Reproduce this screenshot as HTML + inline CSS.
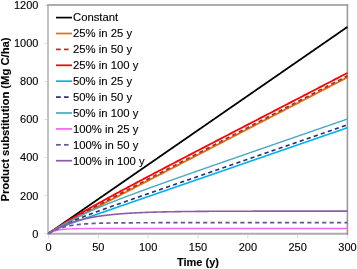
<!DOCTYPE html><html><head><meta charset="utf-8"><style>html,body{margin:0;padding:0;background:#fff;}svg{display:block;} text{filter:grayscale(1);stroke:#000;stroke-width:0.12px;}text{font-family:"Liberation Sans",sans-serif;}</style></head><body>
<svg width="357" height="269" viewBox="0 0 357 269">
<rect width="357" height="269" fill="#fff"/>
<g stroke="#dcdcdc" stroke-width="1"><line x1="44.5" y1="233.50" x2="47" y2="233.50"/><line x1="44.5" y1="195.50" x2="47" y2="195.50"/><line x1="44.5" y1="157.50" x2="47" y2="157.50"/><line x1="44.5" y1="119.50" x2="47" y2="119.50"/><line x1="44.5" y1="81.50" x2="47" y2="81.50"/><line x1="44.5" y1="43.50" x2="47" y2="43.50"/><line x1="44.5" y1="5.50" x2="47" y2="5.50"/><line x1="48.50" y1="235" x2="48.50" y2="238.5"/><line x1="98.33" y1="235" x2="98.33" y2="238.5"/><line x1="148.17" y1="235" x2="148.17" y2="238.5"/><line x1="198.00" y1="235" x2="198.00" y2="238.5"/><line x1="247.83" y1="235" x2="247.83" y2="238.5"/><line x1="297.67" y1="235" x2="297.67" y2="238.5"/><line x1="347.50" y1="235" x2="347.50" y2="238.5"/></g>
<line x1="48" y1="4" x2="48" y2="234.8" stroke="#c2c2c2" stroke-width="2"/>
<line x1="47" y1="233.8" x2="348.2" y2="233.8" stroke="#adadad" stroke-width="2"/>
<line x1="47" y1="5" x2="348.2" y2="5" stroke="#adadad" stroke-width="2"/>
<line x1="347.4" y1="4" x2="347.4" y2="234.8" stroke="#999" stroke-width="1.6"/>
<path d="M48.50,233.50 L49.00,233.16 L49.50,232.81 L49.99,232.47 L50.49,232.12 L50.99,231.78 L51.49,231.43 L51.99,231.09 L52.49,230.75 L52.98,230.40 L53.48,230.06 L53.98,229.71 L54.48,229.37 L54.98,229.02 L55.48,228.68 L55.98,228.33 L56.47,227.99 L56.97,227.65 L57.47,227.30 L57.97,226.96 L58.47,226.61 L58.97,226.27 L59.46,225.92 L59.96,225.58 L60.46,225.24 L60.96,224.89 L61.46,224.55 L61.95,224.20 L62.45,223.86 L62.95,223.51 L63.45,223.17 L63.95,222.82 L64.45,222.48 L64.94,222.14 L65.44,221.79 L65.94,221.45 L66.44,221.10 L66.94,220.76 L67.44,220.41 L67.94,220.07 L68.43,219.72 L68.93,219.38 L69.43,219.04 L69.93,218.69 L70.43,218.35 L70.92,218.00 L71.42,217.66 L71.92,217.31 L72.42,216.97 L72.92,216.63 L73.42,216.28 L73.91,215.94 L74.41,215.59 L74.91,215.25 L75.41,214.90 L75.91,214.56 L76.41,214.22 L76.91,213.87 L77.40,213.53 L77.90,213.18 L78.40,212.84 L78.90,212.49 L79.40,212.15 L79.89,211.80 L80.39,211.46 L80.89,211.12 L81.39,210.77 L81.89,210.43 L82.39,210.08 L82.88,209.74 L83.38,209.39 L83.88,209.05 L84.38,208.70 L84.88,208.36 L85.38,208.02 L85.88,207.67 L86.37,207.33 L86.87,206.98 L87.37,206.64 L87.87,206.29 L88.37,205.95 L88.87,205.61 L89.36,205.26 L89.86,204.92 L90.36,204.57 L90.86,204.23 L91.36,203.88 L91.85,203.54 L92.35,203.19 L92.85,202.85 L93.35,202.51 L93.85,202.16 L94.35,201.82 L94.84,201.47 L95.34,201.13 L95.84,200.78 L96.34,200.44 L96.84,200.10 L97.34,199.75 L97.84,199.41 L98.33,199.06 L98.83,198.72 L99.33,198.37 L99.83,198.03 L100.33,197.69 L100.83,197.34 L101.32,197.00 L101.82,196.65 L102.32,196.31 L102.82,195.96 L103.32,195.62 L103.81,195.27 L104.31,194.93 L104.81,194.59 L105.31,194.24 L105.81,193.90 L106.31,193.55 L106.81,193.21 L107.30,192.86 L107.80,192.52 L108.30,192.18 L108.80,191.83 L109.30,191.49 L109.80,191.14 L110.29,190.80 L110.79,190.45 L111.29,190.11 L111.79,189.76 L112.29,189.42 L112.78,189.08 L113.28,188.73 L113.78,188.39 L114.28,188.04 L114.78,187.70 L115.28,187.35 L115.78,187.01 L116.27,186.66 L116.77,186.32 L117.27,185.98 L117.77,185.63 L118.27,185.29 L118.77,184.94 L119.26,184.60 L119.76,184.25 L120.26,183.91 L120.76,183.57 L121.26,183.22 L121.75,182.88 L122.25,182.53 L122.75,182.19 L123.25,181.84 L123.75,181.50 L124.25,181.16 L124.75,180.81 L125.24,180.47 L125.74,180.12 L126.24,179.78 L126.74,179.43 L127.24,179.09 L127.73,178.74 L128.23,178.40 L128.73,178.06 L129.23,177.71 L129.73,177.37 L130.23,177.02 L130.72,176.68 L131.22,176.33 L131.72,175.99 L132.22,175.65 L132.72,175.30 L133.22,174.96 L133.72,174.61 L134.21,174.27 L134.71,173.92 L135.21,173.58 L135.71,173.23 L136.21,172.89 L136.70,172.55 L137.20,172.20 L137.70,171.86 L138.20,171.51 L138.70,171.17 L139.20,170.82 L139.69,170.48 L140.19,170.13 L140.69,169.79 L141.19,169.45 L141.69,169.10 L142.19,168.76 L142.69,168.41 L143.18,168.07 L143.68,167.72 L144.18,167.38 L144.68,167.04 L145.18,166.69 L145.68,166.35 L146.17,166.00 L146.67,165.66 L147.17,165.31 L147.67,164.97 L148.17,164.62 L148.67,164.28 L149.16,163.94 L149.66,163.59 L150.16,163.25 L150.66,162.90 L151.16,162.56 L151.66,162.21 L152.15,161.87 L152.65,161.53 L153.15,161.18 L153.65,160.84 L154.15,160.49 L154.64,160.15 L155.14,159.80 L155.64,159.46 L156.14,159.12 L156.64,158.77 L157.14,158.43 L157.63,158.08 L158.13,157.74 L158.63,157.39 L159.13,157.05 L159.63,156.70 L160.13,156.36 L160.62,156.02 L161.12,155.67 L161.62,155.33 L162.12,154.98 L162.62,154.64 L163.12,154.29 L163.62,153.95 L164.11,153.61 L164.61,153.26 L165.11,152.92 L165.61,152.57 L166.11,152.23 L166.61,151.88 L167.10,151.54 L167.60,151.19 L168.10,150.85 L168.60,150.51 L169.10,150.16 L169.59,149.82 L170.09,149.47 L170.59,149.13 L171.09,148.78 L171.59,148.44 L172.09,148.09 L172.58,147.75 L173.08,147.41 L173.58,147.06 L174.08,146.72 L174.58,146.37 L175.08,146.03 L175.57,145.68 L176.07,145.34 L176.57,145.00 L177.07,144.65 L177.57,144.31 L178.07,143.96 L178.56,143.62 L179.06,143.27 L179.56,142.93 L180.06,142.58 L180.56,142.24 L181.06,141.90 L181.56,141.55 L182.05,141.21 L182.55,140.86 L183.05,140.52 L183.55,140.17 L184.05,139.83 L184.54,139.49 L185.04,139.14 L185.54,138.80 L186.04,138.45 L186.54,138.11 L187.04,137.76 L187.53,137.42 L188.03,137.07 L188.53,136.73 L189.03,136.39 L189.53,136.04 L190.03,135.70 L190.53,135.35 L191.02,135.01 L191.52,134.66 L192.02,134.32 L192.52,133.98 L193.02,133.63 L193.51,133.29 L194.01,132.94 L194.51,132.60 L195.01,132.25 L195.51,131.91 L196.01,131.56 L196.50,131.22 L197.00,130.88 L197.50,130.53 L198.00,130.19 L198.50,129.84 L199.00,129.50 L199.50,129.15 L199.99,128.81 L200.49,128.47 L200.99,128.12 L201.49,127.78 L201.99,127.43 L202.49,127.09 L202.98,126.74 L203.48,126.40 L203.98,126.06 L204.48,125.71 L204.98,125.37 L205.47,125.02 L205.97,124.68 L206.47,124.33 L206.97,123.99 L207.47,123.64 L207.97,123.30 L208.47,122.96 L208.96,122.61 L209.46,122.27 L209.96,121.92 L210.46,121.58 L210.96,121.23 L211.46,120.89 L211.95,120.55 L212.45,120.20 L212.95,119.86 L213.45,119.51 L213.95,119.17 L214.44,118.82 L214.94,118.48 L215.44,118.13 L215.94,117.79 L216.44,117.45 L216.94,117.10 L217.44,116.76 L217.93,116.41 L218.43,116.07 L218.93,115.72 L219.43,115.38 L219.93,115.03 L220.43,114.69 L220.92,114.35 L221.42,114.00 L221.92,113.66 L222.42,113.31 L222.92,112.97 L223.41,112.62 L223.91,112.28 L224.41,111.94 L224.91,111.59 L225.41,111.25 L225.91,110.90 L226.41,110.56 L226.90,110.21 L227.40,109.87 L227.90,109.53 L228.40,109.18 L228.90,108.84 L229.40,108.49 L229.89,108.15 L230.39,107.80 L230.89,107.46 L231.39,107.11 L231.89,106.77 L232.38,106.43 L232.88,106.08 L233.38,105.74 L233.88,105.39 L234.38,105.05 L234.88,104.70 L235.38,104.36 L235.87,104.01 L236.37,103.67 L236.87,103.33 L237.37,102.98 L237.87,102.64 L238.37,102.29 L238.86,101.95 L239.36,101.60 L239.86,101.26 L240.36,100.92 L240.86,100.57 L241.35,100.23 L241.85,99.88 L242.35,99.54 L242.85,99.19 L243.35,98.85 L243.85,98.50 L244.34,98.16 L244.84,97.82 L245.34,97.47 L245.84,97.13 L246.34,96.78 L246.84,96.44 L247.34,96.09 L247.83,95.75 L248.33,95.41 L248.83,95.06 L249.33,94.72 L249.83,94.37 L250.32,94.03 L250.82,93.68 L251.32,93.34 L251.82,93.00 L252.32,92.65 L252.82,92.31 L253.31,91.96 L253.81,91.62 L254.31,91.27 L254.81,90.93 L255.31,90.58 L255.81,90.24 L256.31,89.90 L256.80,89.55 L257.30,89.21 L257.80,88.86 L258.30,88.52 L258.80,88.17 L259.29,87.83 L259.79,87.49 L260.29,87.14 L260.79,86.80 L261.29,86.45 L261.79,86.11 L262.28,85.76 L262.78,85.42 L263.28,85.07 L263.78,84.73 L264.28,84.39 L264.78,84.04 L265.27,83.70 L265.77,83.35 L266.27,83.01 L266.77,82.66 L267.27,82.32 L267.77,81.97 L268.26,81.63 L268.76,81.29 L269.26,80.94 L269.76,80.60 L270.26,80.25 L270.76,79.91 L271.25,79.56 L271.75,79.22 L272.25,78.88 L272.75,78.53 L273.25,78.19 L273.75,77.84 L274.25,77.50 L274.74,77.15 L275.24,76.81 L275.74,76.47 L276.24,76.12 L276.74,75.78 L277.24,75.43 L277.73,75.09 L278.23,74.74 L278.73,74.40 L279.23,74.05 L279.73,73.71 L280.23,73.37 L280.72,73.02 L281.22,72.68 L281.72,72.33 L282.22,71.99 L282.72,71.64 L283.22,71.30 L283.71,70.96 L284.21,70.61 L284.71,70.27 L285.21,69.92 L285.71,69.58 L286.21,69.23 L286.70,68.89 L287.20,68.54 L287.70,68.20 L288.20,67.86 L288.70,67.51 L289.19,67.17 L289.69,66.82 L290.19,66.48 L290.69,66.13 L291.19,65.79 L291.69,65.44 L292.19,65.10 L292.68,64.76 L293.18,64.41 L293.68,64.07 L294.18,63.72 L294.68,63.38 L295.18,63.03 L295.67,62.69 L296.17,62.35 L296.67,62.00 L297.17,61.66 L297.67,61.31 L298.16,60.97 L298.66,60.62 L299.16,60.28 L299.66,59.94 L300.16,59.59 L300.66,59.25 L301.15,58.90 L301.65,58.56 L302.15,58.21 L302.65,57.87 L303.15,57.52 L303.65,57.18 L304.14,56.84 L304.64,56.49 L305.14,56.15 L305.64,55.80 L306.14,55.46 L306.64,55.11 L307.13,54.77 L307.63,54.43 L308.13,54.08 L308.63,53.74 L309.13,53.39 L309.63,53.05 L310.12,52.70 L310.62,52.36 L311.12,52.01 L311.62,51.67 L312.12,51.33 L312.62,50.98 L313.12,50.64 L313.61,50.29 L314.11,49.95 L314.61,49.60 L315.11,49.26 L315.61,48.91 L316.11,48.57 L316.60,48.23 L317.10,47.88 L317.60,47.54 L318.10,47.19 L318.60,46.85 L319.10,46.50 L319.59,46.16 L320.09,45.82 L320.59,45.47 L321.09,45.13 L321.59,44.78 L322.08,44.44 L322.58,44.09 L323.08,43.75 L323.58,43.41 L324.08,43.06 L324.58,42.72 L325.07,42.37 L325.57,42.03 L326.07,41.68 L326.57,41.34 L327.07,40.99 L327.57,40.65 L328.06,40.31 L328.56,39.96 L329.06,39.62 L329.56,39.27 L330.06,38.93 L330.56,38.58 L331.06,38.24 L331.55,37.90 L332.05,37.55 L332.55,37.21 L333.05,36.86 L333.55,36.52 L334.05,36.17 L334.54,35.83 L335.04,35.48 L335.54,35.14 L336.04,34.80 L336.54,34.45 L337.04,34.11 L337.53,33.76 L338.03,33.42 L338.53,33.07 L339.03,32.73 L339.53,32.38 L340.02,32.04 L340.52,31.70 L341.02,31.35 L341.52,31.01 L342.02,30.66 L342.52,30.32 L343.01,29.97 L343.51,29.63 L344.01,29.29 L344.51,28.94 L345.01,28.60 L345.51,28.25 L346.00,27.91 L346.50,27.56 L347.00,27.22 L347.50,26.88" fill="none" stroke="#000000" stroke-width="1.8" stroke-linejoin="round"/>
<path d="M48.50,233.50 L49.00,233.17 L49.50,232.84 L49.99,232.52 L50.49,232.20 L50.99,231.89 L51.49,231.58 L51.99,231.27 L52.49,230.96 L52.98,230.66 L53.48,230.36 L53.98,230.06 L54.48,229.77 L54.98,229.47 L55.48,229.18 L55.98,228.89 L56.47,228.61 L56.97,228.32 L57.47,228.04 L57.97,227.75 L58.47,227.47 L58.97,227.19 L59.46,226.91 L59.96,226.63 L60.46,226.36 L60.96,226.08 L61.46,225.81 L61.95,225.53 L62.45,225.26 L62.95,224.99 L63.45,224.72 L63.95,224.45 L64.45,224.18 L64.94,223.91 L65.44,223.64 L65.94,223.37 L66.44,223.10 L66.94,222.84 L67.44,222.57 L67.94,222.30 L68.43,222.04 L68.93,221.77 L69.43,221.51 L69.93,221.24 L70.43,220.98 L70.92,220.72 L71.42,220.45 L71.92,220.19 L72.42,219.93 L72.92,219.66 L73.42,219.40 L73.91,219.14 L74.41,218.88 L74.91,218.62 L75.41,218.36 L75.91,218.09 L76.41,217.83 L76.91,217.57 L77.40,217.31 L77.90,217.05 L78.40,216.79 L78.90,216.53 L79.40,216.27 L79.89,216.01 L80.39,215.75 L80.89,215.49 L81.39,215.23 L81.89,214.97 L82.39,214.71 L82.88,214.45 L83.38,214.19 L83.88,213.93 L84.38,213.67 L84.88,213.41 L85.38,213.15 L85.88,212.89 L86.37,212.64 L86.87,212.38 L87.37,212.12 L87.87,211.86 L88.37,211.60 L88.87,211.34 L89.36,211.08 L89.86,210.82 L90.36,210.56 L90.86,210.31 L91.36,210.05 L91.85,209.79 L92.35,209.53 L92.85,209.27 L93.35,209.01 L93.85,208.75 L94.35,208.49 L94.84,208.24 L95.34,207.98 L95.84,207.72 L96.34,207.46 L96.84,207.20 L97.34,206.94 L97.84,206.68 L98.33,206.43 L98.83,206.17 L99.33,205.91 L99.83,205.65 L100.33,205.39 L100.83,205.13 L101.32,204.88 L101.82,204.62 L102.32,204.36 L102.82,204.10 L103.32,203.84 L103.81,203.58 L104.31,203.32 L104.81,203.07 L105.31,202.81 L105.81,202.55 L106.31,202.29 L106.81,202.03 L107.30,201.77 L107.80,201.52 L108.30,201.26 L108.80,201.00 L109.30,200.74 L109.80,200.48 L110.29,200.22 L110.79,199.97 L111.29,199.71 L111.79,199.45 L112.29,199.19 L112.78,198.93 L113.28,198.67 L113.78,198.42 L114.28,198.16 L114.78,197.90 L115.28,197.64 L115.78,197.38 L116.27,197.12 L116.77,196.87 L117.27,196.61 L117.77,196.35 L118.27,196.09 L118.77,195.83 L119.26,195.58 L119.76,195.32 L120.26,195.06 L120.76,194.80 L121.26,194.54 L121.75,194.28 L122.25,194.03 L122.75,193.77 L123.25,193.51 L123.75,193.25 L124.25,192.99 L124.75,192.73 L125.24,192.48 L125.74,192.22 L126.24,191.96 L126.74,191.70 L127.24,191.44 L127.73,191.18 L128.23,190.93 L128.73,190.67 L129.23,190.41 L129.73,190.15 L130.23,189.89 L130.72,189.63 L131.22,189.38 L131.72,189.12 L132.22,188.86 L132.72,188.60 L133.22,188.34 L133.72,188.08 L134.21,187.83 L134.71,187.57 L135.21,187.31 L135.71,187.05 L136.21,186.79 L136.70,186.54 L137.20,186.28 L137.70,186.02 L138.20,185.76 L138.70,185.50 L139.20,185.24 L139.69,184.99 L140.19,184.73 L140.69,184.47 L141.19,184.21 L141.69,183.95 L142.19,183.69 L142.69,183.44 L143.18,183.18 L143.68,182.92 L144.18,182.66 L144.68,182.40 L145.18,182.14 L145.68,181.89 L146.17,181.63 L146.67,181.37 L147.17,181.11 L147.67,180.85 L148.17,180.59 L148.67,180.34 L149.16,180.08 L149.66,179.82 L150.16,179.56 L150.66,179.30 L151.16,179.04 L151.66,178.79 L152.15,178.53 L152.65,178.27 L153.15,178.01 L153.65,177.75 L154.15,177.50 L154.64,177.24 L155.14,176.98 L155.64,176.72 L156.14,176.46 L156.64,176.20 L157.14,175.95 L157.63,175.69 L158.13,175.43 L158.63,175.17 L159.13,174.91 L159.63,174.65 L160.13,174.40 L160.62,174.14 L161.12,173.88 L161.62,173.62 L162.12,173.36 L162.62,173.10 L163.12,172.85 L163.62,172.59 L164.11,172.33 L164.61,172.07 L165.11,171.81 L165.61,171.55 L166.11,171.30 L166.61,171.04 L167.10,170.78 L167.60,170.52 L168.10,170.26 L168.60,170.00 L169.10,169.75 L169.59,169.49 L170.09,169.23 L170.59,168.97 L171.09,168.71 L171.59,168.46 L172.09,168.20 L172.58,167.94 L173.08,167.68 L173.58,167.42 L174.08,167.16 L174.58,166.91 L175.08,166.65 L175.57,166.39 L176.07,166.13 L176.57,165.87 L177.07,165.61 L177.57,165.36 L178.07,165.10 L178.56,164.84 L179.06,164.58 L179.56,164.32 L180.06,164.06 L180.56,163.81 L181.06,163.55 L181.56,163.29 L182.05,163.03 L182.55,162.77 L183.05,162.51 L183.55,162.26 L184.05,162.00 L184.54,161.74 L185.04,161.48 L185.54,161.22 L186.04,160.97 L186.54,160.71 L187.04,160.45 L187.53,160.19 L188.03,159.93 L188.53,159.67 L189.03,159.42 L189.53,159.16 L190.03,158.90 L190.53,158.64 L191.02,158.38 L191.52,158.12 L192.02,157.87 L192.52,157.61 L193.02,157.35 L193.51,157.09 L194.01,156.83 L194.51,156.57 L195.01,156.32 L195.51,156.06 L196.01,155.80 L196.50,155.54 L197.00,155.28 L197.50,155.02 L198.00,154.77 L198.50,154.51 L199.00,154.25 L199.50,153.99 L199.99,153.73 L200.49,153.47 L200.99,153.22 L201.49,152.96 L201.99,152.70 L202.49,152.44 L202.98,152.18 L203.48,151.93 L203.98,151.67 L204.48,151.41 L204.98,151.15 L205.47,150.89 L205.97,150.63 L206.47,150.38 L206.97,150.12 L207.47,149.86 L207.97,149.60 L208.47,149.34 L208.96,149.08 L209.46,148.83 L209.96,148.57 L210.46,148.31 L210.96,148.05 L211.46,147.79 L211.95,147.53 L212.45,147.28 L212.95,147.02 L213.45,146.76 L213.95,146.50 L214.44,146.24 L214.94,145.98 L215.44,145.73 L215.94,145.47 L216.44,145.21 L216.94,144.95 L217.44,144.69 L217.93,144.44 L218.43,144.18 L218.93,143.92 L219.43,143.66 L219.93,143.40 L220.43,143.14 L220.92,142.89 L221.42,142.63 L221.92,142.37 L222.42,142.11 L222.92,141.85 L223.41,141.59 L223.91,141.34 L224.41,141.08 L224.91,140.82 L225.41,140.56 L225.91,140.30 L226.41,140.04 L226.90,139.79 L227.40,139.53 L227.90,139.27 L228.40,139.01 L228.90,138.75 L229.40,138.49 L229.89,138.24 L230.39,137.98 L230.89,137.72 L231.39,137.46 L231.89,137.20 L232.38,136.94 L232.88,136.69 L233.38,136.43 L233.88,136.17 L234.38,135.91 L234.88,135.65 L235.38,135.40 L235.87,135.14 L236.37,134.88 L236.87,134.62 L237.37,134.36 L237.87,134.10 L238.37,133.85 L238.86,133.59 L239.36,133.33 L239.86,133.07 L240.36,132.81 L240.86,132.55 L241.35,132.30 L241.85,132.04 L242.35,131.78 L242.85,131.52 L243.35,131.26 L243.85,131.00 L244.34,130.75 L244.84,130.49 L245.34,130.23 L245.84,129.97 L246.34,129.71 L246.84,129.45 L247.34,129.20 L247.83,128.94 L248.33,128.68 L248.83,128.42 L249.33,128.16 L249.83,127.91 L250.32,127.65 L250.82,127.39 L251.32,127.13 L251.82,126.87 L252.32,126.61 L252.82,126.36 L253.31,126.10 L253.81,125.84 L254.31,125.58 L254.81,125.32 L255.31,125.06 L255.81,124.81 L256.31,124.55 L256.80,124.29 L257.30,124.03 L257.80,123.77 L258.30,123.51 L258.80,123.26 L259.29,123.00 L259.79,122.74 L260.29,122.48 L260.79,122.22 L261.29,121.96 L261.79,121.71 L262.28,121.45 L262.78,121.19 L263.28,120.93 L263.78,120.67 L264.28,120.41 L264.78,120.16 L265.27,119.90 L265.77,119.64 L266.27,119.38 L266.77,119.12 L267.27,118.87 L267.77,118.61 L268.26,118.35 L268.76,118.09 L269.26,117.83 L269.76,117.57 L270.26,117.32 L270.76,117.06 L271.25,116.80 L271.75,116.54 L272.25,116.28 L272.75,116.02 L273.25,115.77 L273.75,115.51 L274.25,115.25 L274.74,114.99 L275.24,114.73 L275.74,114.47 L276.24,114.22 L276.74,113.96 L277.24,113.70 L277.73,113.44 L278.23,113.18 L278.73,112.92 L279.23,112.67 L279.73,112.41 L280.23,112.15 L280.72,111.89 L281.22,111.63 L281.72,111.38 L282.22,111.12 L282.72,110.86 L283.22,110.60 L283.71,110.34 L284.21,110.08 L284.71,109.83 L285.21,109.57 L285.71,109.31 L286.21,109.05 L286.70,108.79 L287.20,108.53 L287.70,108.28 L288.20,108.02 L288.70,107.76 L289.19,107.50 L289.69,107.24 L290.19,106.98 L290.69,106.73 L291.19,106.47 L291.69,106.21 L292.19,105.95 L292.68,105.69 L293.18,105.43 L293.68,105.18 L294.18,104.92 L294.68,104.66 L295.18,104.40 L295.67,104.14 L296.17,103.88 L296.67,103.63 L297.17,103.37 L297.67,103.11 L298.16,102.85 L298.66,102.59 L299.16,102.34 L299.66,102.08 L300.16,101.82 L300.66,101.56 L301.15,101.30 L301.65,101.04 L302.15,100.79 L302.65,100.53 L303.15,100.27 L303.65,100.01 L304.14,99.75 L304.64,99.49 L305.14,99.24 L305.64,98.98 L306.14,98.72 L306.64,98.46 L307.13,98.20 L307.63,97.94 L308.13,97.69 L308.63,97.43 L309.13,97.17 L309.63,96.91 L310.12,96.65 L310.62,96.39 L311.12,96.14 L311.62,95.88 L312.12,95.62 L312.62,95.36 L313.12,95.10 L313.61,94.85 L314.11,94.59 L314.61,94.33 L315.11,94.07 L315.61,93.81 L316.11,93.55 L316.60,93.30 L317.10,93.04 L317.60,92.78 L318.10,92.52 L318.60,92.26 L319.10,92.00 L319.59,91.75 L320.09,91.49 L320.59,91.23 L321.09,90.97 L321.59,90.71 L322.08,90.45 L322.58,90.20 L323.08,89.94 L323.58,89.68 L324.08,89.42 L324.58,89.16 L325.07,88.90 L325.57,88.65 L326.07,88.39 L326.57,88.13 L327.07,87.87 L327.57,87.61 L328.06,87.35 L328.56,87.10 L329.06,86.84 L329.56,86.58 L330.06,86.32 L330.56,86.06 L331.06,85.81 L331.55,85.55 L332.05,85.29 L332.55,85.03 L333.05,84.77 L333.55,84.51 L334.05,84.26 L334.54,84.00 L335.04,83.74 L335.54,83.48 L336.04,83.22 L336.54,82.96 L337.04,82.71 L337.53,82.45 L338.03,82.19 L338.53,81.93 L339.03,81.67 L339.53,81.41 L340.02,81.16 L340.52,80.90 L341.02,80.64 L341.52,80.38 L342.02,80.12 L342.52,79.86 L343.01,79.61 L343.51,79.35 L344.01,79.09 L344.51,78.83 L345.01,78.57 L345.51,78.32 L346.00,78.06 L346.50,77.80 L347.00,77.54 L347.50,77.28" fill="none" stroke="#e46c0a" stroke-width="1.8" stroke-linejoin="round"/>
<path d="M48.50,233.50 L49.00,233.16 L49.50,232.83 L49.99,232.50 L50.49,232.17 L50.99,231.84 L51.49,231.51 L51.99,231.19 L52.49,230.87 L52.98,230.55 L53.48,230.23 L53.98,229.91 L54.48,229.60 L54.98,229.29 L55.48,228.97 L55.98,228.66 L56.47,228.35 L56.97,228.05 L57.47,227.74 L57.97,227.44 L58.47,227.13 L58.97,226.83 L59.46,226.53 L59.96,226.23 L60.46,225.94 L60.96,225.64 L61.46,225.34 L61.95,225.05 L62.45,224.75 L62.95,224.46 L63.45,224.17 L63.95,223.88 L64.45,223.59 L64.94,223.30 L65.44,223.01 L65.94,222.73 L66.44,222.44 L66.94,222.15 L67.44,221.87 L67.94,221.59 L68.43,221.30 L68.93,221.02 L69.43,220.74 L69.93,220.46 L70.43,220.18 L70.92,219.90 L71.42,219.62 L71.92,219.34 L72.42,219.06 L72.92,218.78 L73.42,218.51 L73.91,218.23 L74.41,217.96 L74.91,217.68 L75.41,217.41 L75.91,217.13 L76.41,216.86 L76.91,216.58 L77.40,216.31 L77.90,216.04 L78.40,215.77 L78.90,215.50 L79.40,215.22 L79.89,214.95 L80.39,214.68 L80.89,214.41 L81.39,214.14 L81.89,213.87 L82.39,213.60 L82.88,213.34 L83.38,213.07 L83.88,212.80 L84.38,212.53 L84.88,212.26 L85.38,212.00 L85.88,211.73 L86.37,211.46 L86.87,211.19 L87.37,210.93 L87.87,210.66 L88.37,210.40 L88.87,210.13 L89.36,209.86 L89.86,209.60 L90.36,209.33 L90.86,209.07 L91.36,208.80 L91.85,208.54 L92.35,208.28 L92.85,208.01 L93.35,207.75 L93.85,207.48 L94.35,207.22 L94.84,206.96 L95.34,206.69 L95.84,206.43 L96.34,206.17 L96.84,205.90 L97.34,205.64 L97.84,205.38 L98.33,205.12 L98.83,204.85 L99.33,204.59 L99.83,204.33 L100.33,204.07 L100.83,203.81 L101.32,203.54 L101.82,203.28 L102.32,203.02 L102.82,202.76 L103.32,202.50 L103.81,202.24 L104.31,201.97 L104.81,201.71 L105.31,201.45 L105.81,201.19 L106.31,200.93 L106.81,200.67 L107.30,200.41 L107.80,200.15 L108.30,199.89 L108.80,199.63 L109.30,199.37 L109.80,199.11 L110.29,198.85 L110.79,198.59 L111.29,198.32 L111.79,198.06 L112.29,197.80 L112.78,197.54 L113.28,197.28 L113.78,197.02 L114.28,196.76 L114.78,196.50 L115.28,196.24 L115.78,195.98 L116.27,195.73 L116.77,195.47 L117.27,195.21 L117.77,194.95 L118.27,194.69 L118.77,194.43 L119.26,194.17 L119.76,193.91 L120.26,193.65 L120.76,193.39 L121.26,193.13 L121.75,192.87 L122.25,192.61 L122.75,192.35 L123.25,192.09 L123.75,191.83 L124.25,191.57 L124.75,191.31 L125.24,191.06 L125.74,190.80 L126.24,190.54 L126.74,190.28 L127.24,190.02 L127.73,189.76 L128.23,189.50 L128.73,189.24 L129.23,188.98 L129.73,188.72 L130.23,188.47 L130.72,188.21 L131.22,187.95 L131.72,187.69 L132.22,187.43 L132.72,187.17 L133.22,186.91 L133.72,186.65 L134.21,186.39 L134.71,186.14 L135.21,185.88 L135.71,185.62 L136.21,185.36 L136.70,185.10 L137.20,184.84 L137.70,184.58 L138.20,184.32 L138.70,184.07 L139.20,183.81 L139.69,183.55 L140.19,183.29 L140.69,183.03 L141.19,182.77 L141.69,182.51 L142.19,182.26 L142.69,182.00 L143.18,181.74 L143.68,181.48 L144.18,181.22 L144.68,180.96 L145.18,180.70 L145.68,180.45 L146.17,180.19 L146.67,179.93 L147.17,179.67 L147.67,179.41 L148.17,179.15 L148.67,178.89 L149.16,178.64 L149.66,178.38 L150.16,178.12 L150.66,177.86 L151.16,177.60 L151.66,177.34 L152.15,177.09 L152.65,176.83 L153.15,176.57 L153.65,176.31 L154.15,176.05 L154.64,175.79 L155.14,175.53 L155.64,175.28 L156.14,175.02 L156.64,174.76 L157.14,174.50 L157.63,174.24 L158.13,173.98 L158.63,173.73 L159.13,173.47 L159.63,173.21 L160.13,172.95 L160.62,172.69 L161.12,172.43 L161.62,172.18 L162.12,171.92 L162.62,171.66 L163.12,171.40 L163.62,171.14 L164.11,170.88 L164.61,170.63 L165.11,170.37 L165.61,170.11 L166.11,169.85 L166.61,169.59 L167.10,169.33 L167.60,169.08 L168.10,168.82 L168.60,168.56 L169.10,168.30 L169.59,168.04 L170.09,167.78 L170.59,167.53 L171.09,167.27 L171.59,167.01 L172.09,166.75 L172.58,166.49 L173.08,166.23 L173.58,165.98 L174.08,165.72 L174.58,165.46 L175.08,165.20 L175.57,164.94 L176.07,164.68 L176.57,164.43 L177.07,164.17 L177.57,163.91 L178.07,163.65 L178.56,163.39 L179.06,163.13 L179.56,162.88 L180.06,162.62 L180.56,162.36 L181.06,162.10 L181.56,161.84 L182.05,161.58 L182.55,161.33 L183.05,161.07 L183.55,160.81 L184.05,160.55 L184.54,160.29 L185.04,160.03 L185.54,159.78 L186.04,159.52 L186.54,159.26 L187.04,159.00 L187.53,158.74 L188.03,158.48 L188.53,158.23 L189.03,157.97 L189.53,157.71 L190.03,157.45 L190.53,157.19 L191.02,156.93 L191.52,156.68 L192.02,156.42 L192.52,156.16 L193.02,155.90 L193.51,155.64 L194.01,155.38 L194.51,155.13 L195.01,154.87 L195.51,154.61 L196.01,154.35 L196.50,154.09 L197.00,153.83 L197.50,153.58 L198.00,153.32 L198.50,153.06 L199.00,152.80 L199.50,152.54 L199.99,152.28 L200.49,152.03 L200.99,151.77 L201.49,151.51 L201.99,151.25 L202.49,150.99 L202.98,150.74 L203.48,150.48 L203.98,150.22 L204.48,149.96 L204.98,149.70 L205.47,149.44 L205.97,149.19 L206.47,148.93 L206.97,148.67 L207.47,148.41 L207.97,148.15 L208.47,147.89 L208.96,147.64 L209.46,147.38 L209.96,147.12 L210.46,146.86 L210.96,146.60 L211.46,146.34 L211.95,146.09 L212.45,145.83 L212.95,145.57 L213.45,145.31 L213.95,145.05 L214.44,144.79 L214.94,144.54 L215.44,144.28 L215.94,144.02 L216.44,143.76 L216.94,143.50 L217.44,143.24 L217.93,142.99 L218.43,142.73 L218.93,142.47 L219.43,142.21 L219.93,141.95 L220.43,141.70 L220.92,141.44 L221.42,141.18 L221.92,140.92 L222.42,140.66 L222.92,140.40 L223.41,140.15 L223.91,139.89 L224.41,139.63 L224.91,139.37 L225.41,139.11 L225.91,138.85 L226.41,138.60 L226.90,138.34 L227.40,138.08 L227.90,137.82 L228.40,137.56 L228.90,137.30 L229.40,137.05 L229.89,136.79 L230.39,136.53 L230.89,136.27 L231.39,136.01 L231.89,135.75 L232.38,135.50 L232.88,135.24 L233.38,134.98 L233.88,134.72 L234.38,134.46 L234.88,134.20 L235.38,133.95 L235.87,133.69 L236.37,133.43 L236.87,133.17 L237.37,132.91 L237.87,132.66 L238.37,132.40 L238.86,132.14 L239.36,131.88 L239.86,131.62 L240.36,131.36 L240.86,131.11 L241.35,130.85 L241.85,130.59 L242.35,130.33 L242.85,130.07 L243.35,129.81 L243.85,129.56 L244.34,129.30 L244.84,129.04 L245.34,128.78 L245.84,128.52 L246.34,128.26 L246.84,128.01 L247.34,127.75 L247.83,127.49 L248.33,127.23 L248.83,126.97 L249.33,126.71 L249.83,126.46 L250.32,126.20 L250.82,125.94 L251.32,125.68 L251.82,125.42 L252.32,125.16 L252.82,124.91 L253.31,124.65 L253.81,124.39 L254.31,124.13 L254.81,123.87 L255.31,123.62 L255.81,123.36 L256.31,123.10 L256.80,122.84 L257.30,122.58 L257.80,122.32 L258.30,122.07 L258.80,121.81 L259.29,121.55 L259.79,121.29 L260.29,121.03 L260.79,120.77 L261.29,120.52 L261.79,120.26 L262.28,120.00 L262.78,119.74 L263.28,119.48 L263.78,119.22 L264.28,118.97 L264.78,118.71 L265.27,118.45 L265.77,118.19 L266.27,117.93 L266.77,117.67 L267.27,117.42 L267.77,117.16 L268.26,116.90 L268.76,116.64 L269.26,116.38 L269.76,116.13 L270.26,115.87 L270.76,115.61 L271.25,115.35 L271.75,115.09 L272.25,114.83 L272.75,114.58 L273.25,114.32 L273.75,114.06 L274.25,113.80 L274.74,113.54 L275.24,113.28 L275.74,113.03 L276.24,112.77 L276.74,112.51 L277.24,112.25 L277.73,111.99 L278.23,111.73 L278.73,111.48 L279.23,111.22 L279.73,110.96 L280.23,110.70 L280.72,110.44 L281.22,110.18 L281.72,109.93 L282.22,109.67 L282.72,109.41 L283.22,109.15 L283.71,108.89 L284.21,108.63 L284.71,108.38 L285.21,108.12 L285.71,107.86 L286.21,107.60 L286.70,107.34 L287.20,107.09 L287.70,106.83 L288.20,106.57 L288.70,106.31 L289.19,106.05 L289.69,105.79 L290.19,105.54 L290.69,105.28 L291.19,105.02 L291.69,104.76 L292.19,104.50 L292.68,104.24 L293.18,103.99 L293.68,103.73 L294.18,103.47 L294.68,103.21 L295.18,102.95 L295.67,102.69 L296.17,102.44 L296.67,102.18 L297.17,101.92 L297.67,101.66 L298.16,101.40 L298.66,101.14 L299.16,100.89 L299.66,100.63 L300.16,100.37 L300.66,100.11 L301.15,99.85 L301.65,99.60 L302.15,99.34 L302.65,99.08 L303.15,98.82 L303.65,98.56 L304.14,98.30 L304.64,98.05 L305.14,97.79 L305.64,97.53 L306.14,97.27 L306.64,97.01 L307.13,96.75 L307.63,96.50 L308.13,96.24 L308.63,95.98 L309.13,95.72 L309.63,95.46 L310.12,95.20 L310.62,94.95 L311.12,94.69 L311.62,94.43 L312.12,94.17 L312.62,93.91 L313.12,93.65 L313.61,93.40 L314.11,93.14 L314.61,92.88 L315.11,92.62 L315.61,92.36 L316.11,92.10 L316.60,91.85 L317.10,91.59 L317.60,91.33 L318.10,91.07 L318.60,90.81 L319.10,90.56 L319.59,90.30 L320.09,90.04 L320.59,89.78 L321.09,89.52 L321.59,89.26 L322.08,89.01 L322.58,88.75 L323.08,88.49 L323.58,88.23 L324.08,87.97 L324.58,87.71 L325.07,87.46 L325.57,87.20 L326.07,86.94 L326.57,86.68 L327.07,86.42 L327.57,86.16 L328.06,85.91 L328.56,85.65 L329.06,85.39 L329.56,85.13 L330.06,84.87 L330.56,84.61 L331.06,84.36 L331.55,84.10 L332.05,83.84 L332.55,83.58 L333.05,83.32 L333.55,83.07 L334.05,82.81 L334.54,82.55 L335.04,82.29 L335.54,82.03 L336.04,81.77 L336.54,81.52 L337.04,81.26 L337.53,81.00 L338.03,80.74 L338.53,80.48 L339.03,80.22 L339.53,79.97 L340.02,79.71 L340.52,79.45 L341.02,79.19 L341.52,78.93 L342.02,78.67 L342.52,78.42 L343.01,78.16 L343.51,77.90 L344.01,77.64 L344.51,77.38 L345.01,77.12 L345.51,76.87 L346.00,76.61 L346.50,76.35 L347.00,76.09 L347.50,75.83" fill="none" stroke="#a8302f" stroke-width="1.8" stroke-dasharray="4.2,3.24" stroke-linejoin="round"/>
<path d="M48.50,233.50 L49.00,233.16 L49.50,232.82 L49.99,232.49 L50.49,232.15 L50.99,231.82 L51.49,231.48 L51.99,231.15 L52.49,230.82 L52.98,230.49 L53.48,230.16 L53.98,229.83 L54.48,229.50 L54.98,229.18 L55.48,228.85 L55.98,228.53 L56.47,228.20 L56.97,227.88 L57.47,227.56 L57.97,227.24 L58.47,226.92 L58.97,226.60 L59.46,226.28 L59.96,225.97 L60.46,225.65 L60.96,225.33 L61.46,225.02 L61.95,224.71 L62.45,224.39 L62.95,224.08 L63.45,223.77 L63.95,223.46 L64.45,223.15 L64.94,222.84 L65.44,222.53 L65.94,222.22 L66.44,221.92 L66.94,221.61 L67.44,221.31 L67.94,221.00 L68.43,220.70 L68.93,220.39 L69.43,220.09 L69.93,219.79 L70.43,219.49 L70.92,219.19 L71.42,218.89 L71.92,218.59 L72.42,218.29 L72.92,217.99 L73.42,217.69 L73.91,217.39 L74.41,217.10 L74.91,216.80 L75.41,216.50 L75.91,216.21 L76.41,215.91 L76.91,215.62 L77.40,215.33 L77.90,215.03 L78.40,214.74 L78.90,214.45 L79.40,214.16 L79.89,213.87 L80.39,213.58 L80.89,213.29 L81.39,213.00 L81.89,212.71 L82.39,212.42 L82.88,212.13 L83.38,211.84 L83.88,211.55 L84.38,211.27 L84.88,210.98 L85.38,210.69 L85.88,210.41 L86.37,210.12 L86.87,209.84 L87.37,209.55 L87.87,209.27 L88.37,208.99 L88.87,208.70 L89.36,208.42 L89.86,208.14 L90.36,207.85 L90.86,207.57 L91.36,207.29 L91.85,207.01 L92.35,206.73 L92.85,206.45 L93.35,206.17 L93.85,205.89 L94.35,205.61 L94.84,205.33 L95.34,205.05 L95.84,204.77 L96.34,204.49 L96.84,204.21 L97.34,203.93 L97.84,203.66 L98.33,203.38 L98.83,203.10 L99.33,202.82 L99.83,202.55 L100.33,202.27 L100.83,202.00 L101.32,201.72 L101.82,201.44 L102.32,201.17 L102.82,200.89 L103.32,200.62 L103.81,200.34 L104.31,200.07 L104.81,199.80 L105.31,199.52 L105.81,199.25 L106.31,198.98 L106.81,198.70 L107.30,198.43 L107.80,198.16 L108.30,197.88 L108.80,197.61 L109.30,197.34 L109.80,197.07 L110.29,196.80 L110.79,196.52 L111.29,196.25 L111.79,195.98 L112.29,195.71 L112.78,195.44 L113.28,195.17 L113.78,194.90 L114.28,194.63 L114.78,194.36 L115.28,194.09 L115.78,193.82 L116.27,193.55 L116.77,193.28 L117.27,193.01 L117.77,192.74 L118.27,192.47 L118.77,192.20 L119.26,191.93 L119.76,191.67 L120.26,191.40 L120.76,191.13 L121.26,190.86 L121.75,190.59 L122.25,190.33 L122.75,190.06 L123.25,189.79 L123.75,189.52 L124.25,189.26 L124.75,188.99 L125.24,188.72 L125.74,188.46 L126.24,188.19 L126.74,187.92 L127.24,187.66 L127.73,187.39 L128.23,187.12 L128.73,186.86 L129.23,186.59 L129.73,186.32 L130.23,186.06 L130.72,185.79 L131.22,185.53 L131.72,185.26 L132.22,185.00 L132.72,184.73 L133.22,184.47 L133.72,184.20 L134.21,183.94 L134.71,183.67 L135.21,183.41 L135.71,183.14 L136.21,182.88 L136.70,182.61 L137.20,182.35 L137.70,182.08 L138.20,181.82 L138.70,181.56 L139.20,181.29 L139.69,181.03 L140.19,180.76 L140.69,180.50 L141.19,180.24 L141.69,179.97 L142.19,179.71 L142.69,179.45 L143.18,179.18 L143.68,178.92 L144.18,178.66 L144.68,178.39 L145.18,178.13 L145.68,177.87 L146.17,177.60 L146.67,177.34 L147.17,177.08 L147.67,176.81 L148.17,176.55 L148.67,176.29 L149.16,176.03 L149.66,175.76 L150.16,175.50 L150.66,175.24 L151.16,174.98 L151.66,174.71 L152.15,174.45 L152.65,174.19 L153.15,173.93 L153.65,173.67 L154.15,173.40 L154.64,173.14 L155.14,172.88 L155.64,172.62 L156.14,172.36 L156.64,172.09 L157.14,171.83 L157.63,171.57 L158.13,171.31 L158.63,171.05 L159.13,170.79 L159.63,170.52 L160.13,170.26 L160.62,170.00 L161.12,169.74 L161.62,169.48 L162.12,169.22 L162.62,168.96 L163.12,168.70 L163.62,168.43 L164.11,168.17 L164.61,167.91 L165.11,167.65 L165.61,167.39 L166.11,167.13 L166.61,166.87 L167.10,166.61 L167.60,166.35 L168.10,166.09 L168.60,165.83 L169.10,165.56 L169.59,165.30 L170.09,165.04 L170.59,164.78 L171.09,164.52 L171.59,164.26 L172.09,164.00 L172.58,163.74 L173.08,163.48 L173.58,163.22 L174.08,162.96 L174.58,162.70 L175.08,162.44 L175.57,162.18 L176.07,161.92 L176.57,161.66 L177.07,161.40 L177.57,161.14 L178.07,160.88 L178.56,160.62 L179.06,160.36 L179.56,160.10 L180.06,159.84 L180.56,159.58 L181.06,159.32 L181.56,159.06 L182.05,158.80 L182.55,158.54 L183.05,158.28 L183.55,158.02 L184.05,157.76 L184.54,157.50 L185.04,157.24 L185.54,156.98 L186.04,156.72 L186.54,156.46 L187.04,156.20 L187.53,155.94 L188.03,155.68 L188.53,155.42 L189.03,155.16 L189.53,154.90 L190.03,154.64 L190.53,154.38 L191.02,154.12 L191.52,153.86 L192.02,153.60 L192.52,153.34 L193.02,153.08 L193.51,152.83 L194.01,152.57 L194.51,152.31 L195.01,152.05 L195.51,151.79 L196.01,151.53 L196.50,151.27 L197.00,151.01 L197.50,150.75 L198.00,150.49 L198.50,150.23 L199.00,149.97 L199.50,149.71 L199.99,149.45 L200.49,149.19 L200.99,148.94 L201.49,148.68 L201.99,148.42 L202.49,148.16 L202.98,147.90 L203.48,147.64 L203.98,147.38 L204.48,147.12 L204.98,146.86 L205.47,146.60 L205.97,146.34 L206.47,146.08 L206.97,145.83 L207.47,145.57 L207.97,145.31 L208.47,145.05 L208.96,144.79 L209.46,144.53 L209.96,144.27 L210.46,144.01 L210.96,143.75 L211.46,143.49 L211.95,143.24 L212.45,142.98 L212.95,142.72 L213.45,142.46 L213.95,142.20 L214.44,141.94 L214.94,141.68 L215.44,141.42 L215.94,141.16 L216.44,140.90 L216.94,140.65 L217.44,140.39 L217.93,140.13 L218.43,139.87 L218.93,139.61 L219.43,139.35 L219.93,139.09 L220.43,138.83 L220.92,138.58 L221.42,138.32 L221.92,138.06 L222.42,137.80 L222.92,137.54 L223.41,137.28 L223.91,137.02 L224.41,136.76 L224.91,136.51 L225.41,136.25 L225.91,135.99 L226.41,135.73 L226.90,135.47 L227.40,135.21 L227.90,134.95 L228.40,134.69 L228.90,134.44 L229.40,134.18 L229.89,133.92 L230.39,133.66 L230.89,133.40 L231.39,133.14 L231.89,132.88 L232.38,132.62 L232.88,132.37 L233.38,132.11 L233.88,131.85 L234.38,131.59 L234.88,131.33 L235.38,131.07 L235.87,130.81 L236.37,130.56 L236.87,130.30 L237.37,130.04 L237.87,129.78 L238.37,129.52 L238.86,129.26 L239.36,129.00 L239.86,128.75 L240.36,128.49 L240.86,128.23 L241.35,127.97 L241.85,127.71 L242.35,127.45 L242.85,127.19 L243.35,126.94 L243.85,126.68 L244.34,126.42 L244.84,126.16 L245.34,125.90 L245.84,125.64 L246.34,125.38 L246.84,125.13 L247.34,124.87 L247.83,124.61 L248.33,124.35 L248.83,124.09 L249.33,123.83 L249.83,123.57 L250.32,123.32 L250.82,123.06 L251.32,122.80 L251.82,122.54 L252.32,122.28 L252.82,122.02 L253.31,121.76 L253.81,121.51 L254.31,121.25 L254.81,120.99 L255.31,120.73 L255.81,120.47 L256.31,120.21 L256.80,119.96 L257.30,119.70 L257.80,119.44 L258.30,119.18 L258.80,118.92 L259.29,118.66 L259.79,118.40 L260.29,118.15 L260.79,117.89 L261.29,117.63 L261.79,117.37 L262.28,117.11 L262.78,116.85 L263.28,116.60 L263.78,116.34 L264.28,116.08 L264.78,115.82 L265.27,115.56 L265.77,115.30 L266.27,115.05 L266.77,114.79 L267.27,114.53 L267.77,114.27 L268.26,114.01 L268.76,113.75 L269.26,113.49 L269.76,113.24 L270.26,112.98 L270.76,112.72 L271.25,112.46 L271.75,112.20 L272.25,111.94 L272.75,111.69 L273.25,111.43 L273.75,111.17 L274.25,110.91 L274.74,110.65 L275.24,110.39 L275.74,110.14 L276.24,109.88 L276.74,109.62 L277.24,109.36 L277.73,109.10 L278.23,108.84 L278.73,108.59 L279.23,108.33 L279.73,108.07 L280.23,107.81 L280.72,107.55 L281.22,107.29 L281.72,107.03 L282.22,106.78 L282.72,106.52 L283.22,106.26 L283.71,106.00 L284.21,105.74 L284.71,105.48 L285.21,105.23 L285.71,104.97 L286.21,104.71 L286.70,104.45 L287.20,104.19 L287.70,103.93 L288.20,103.68 L288.70,103.42 L289.19,103.16 L289.69,102.90 L290.19,102.64 L290.69,102.38 L291.19,102.13 L291.69,101.87 L292.19,101.61 L292.68,101.35 L293.18,101.09 L293.68,100.83 L294.18,100.58 L294.68,100.32 L295.18,100.06 L295.67,99.80 L296.17,99.54 L296.67,99.28 L297.17,99.03 L297.67,98.77 L298.16,98.51 L298.66,98.25 L299.16,97.99 L299.66,97.73 L300.16,97.48 L300.66,97.22 L301.15,96.96 L301.65,96.70 L302.15,96.44 L302.65,96.18 L303.15,95.93 L303.65,95.67 L304.14,95.41 L304.64,95.15 L305.14,94.89 L305.64,94.63 L306.14,94.38 L306.64,94.12 L307.13,93.86 L307.63,93.60 L308.13,93.34 L308.63,93.08 L309.13,92.83 L309.63,92.57 L310.12,92.31 L310.62,92.05 L311.12,91.79 L311.62,91.53 L312.12,91.28 L312.62,91.02 L313.12,90.76 L313.61,90.50 L314.11,90.24 L314.61,89.98 L315.11,89.73 L315.61,89.47 L316.11,89.21 L316.60,88.95 L317.10,88.69 L317.60,88.43 L318.10,88.18 L318.60,87.92 L319.10,87.66 L319.59,87.40 L320.09,87.14 L320.59,86.88 L321.09,86.63 L321.59,86.37 L322.08,86.11 L322.58,85.85 L323.08,85.59 L323.58,85.34 L324.08,85.08 L324.58,84.82 L325.07,84.56 L325.57,84.30 L326.07,84.04 L326.57,83.79 L327.07,83.53 L327.57,83.27 L328.06,83.01 L328.56,82.75 L329.06,82.49 L329.56,82.24 L330.06,81.98 L330.56,81.72 L331.06,81.46 L331.55,81.20 L332.05,80.94 L332.55,80.69 L333.05,80.43 L333.55,80.17 L334.05,79.91 L334.54,79.65 L335.04,79.39 L335.54,79.14 L336.04,78.88 L336.54,78.62 L337.04,78.36 L337.53,78.10 L338.03,77.84 L338.53,77.59 L339.03,77.33 L339.53,77.07 L340.02,76.81 L340.52,76.55 L341.02,76.29 L341.52,76.04 L342.02,75.78 L342.52,75.52 L343.01,75.26 L343.51,75.00 L344.01,74.74 L344.51,74.49 L345.01,74.23 L345.51,73.97 L346.00,73.71 L346.50,73.45 L347.00,73.19 L347.50,72.94" fill="none" stroke="#ff0000" stroke-width="1.8" stroke-linejoin="round"/>
<path d="M48.50,233.50 L49.00,233.19 L49.50,232.88 L49.99,232.58 L50.49,232.29 L50.99,232.00 L51.49,231.72 L51.99,231.45 L52.49,231.18 L52.98,230.92 L53.48,230.67 L53.98,230.42 L54.48,230.17 L54.98,229.93 L55.48,229.69 L55.98,229.45 L56.47,229.22 L56.97,228.99 L57.47,228.77 L57.97,228.55 L58.47,228.33 L58.97,228.11 L59.46,227.90 L59.96,227.69 L60.46,227.48 L60.96,227.27 L61.46,227.07 L61.95,226.86 L62.45,226.66 L62.95,226.46 L63.45,226.26 L63.95,226.07 L64.45,225.87 L64.94,225.68 L65.44,225.49 L65.94,225.29 L66.44,225.10 L66.94,224.91 L67.44,224.73 L67.94,224.54 L68.43,224.35 L68.93,224.17 L69.43,223.98 L69.93,223.80 L70.43,223.61 L70.92,223.43 L71.42,223.25 L71.92,223.07 L72.42,222.88 L72.92,222.70 L73.42,222.52 L73.91,222.34 L74.41,222.17 L74.91,221.99 L75.41,221.81 L75.91,221.63 L76.41,221.45 L76.91,221.27 L77.40,221.10 L77.90,220.92 L78.40,220.74 L78.90,220.57 L79.40,220.39 L79.89,220.22 L80.39,220.04 L80.89,219.86 L81.39,219.69 L81.89,219.51 L82.39,219.34 L82.88,219.16 L83.38,218.99 L83.88,218.81 L84.38,218.64 L84.88,218.47 L85.38,218.29 L85.88,218.12 L86.37,217.94 L86.87,217.77 L87.37,217.60 L87.87,217.42 L88.37,217.25 L88.87,217.08 L89.36,216.90 L89.86,216.73 L90.36,216.56 L90.86,216.38 L91.36,216.21 L91.85,216.04 L92.35,215.86 L92.85,215.69 L93.35,215.52 L93.85,215.34 L94.35,215.17 L94.84,215.00 L95.34,214.83 L95.84,214.65 L96.34,214.48 L96.84,214.31 L97.34,214.13 L97.84,213.96 L98.33,213.79 L98.83,213.62 L99.33,213.44 L99.83,213.27 L100.33,213.10 L100.83,212.93 L101.32,212.75 L101.82,212.58 L102.32,212.41 L102.82,212.24 L103.32,212.06 L103.81,211.89 L104.31,211.72 L104.81,211.55 L105.31,211.38 L105.81,211.20 L106.31,211.03 L106.81,210.86 L107.30,210.69 L107.80,210.51 L108.30,210.34 L108.80,210.17 L109.30,210.00 L109.80,209.82 L110.29,209.65 L110.79,209.48 L111.29,209.31 L111.79,209.14 L112.29,208.96 L112.78,208.79 L113.28,208.62 L113.78,208.45 L114.28,208.27 L114.78,208.10 L115.28,207.93 L115.78,207.76 L116.27,207.58 L116.77,207.41 L117.27,207.24 L117.77,207.07 L118.27,206.90 L118.77,206.72 L119.26,206.55 L119.76,206.38 L120.26,206.21 L120.76,206.03 L121.26,205.86 L121.75,205.69 L122.25,205.52 L122.75,205.35 L123.25,205.17 L123.75,205.00 L124.25,204.83 L124.75,204.66 L125.24,204.48 L125.74,204.31 L126.24,204.14 L126.74,203.97 L127.24,203.80 L127.73,203.62 L128.23,203.45 L128.73,203.28 L129.23,203.11 L129.73,202.94 L130.23,202.76 L130.72,202.59 L131.22,202.42 L131.72,202.25 L132.22,202.07 L132.72,201.90 L133.22,201.73 L133.72,201.56 L134.21,201.39 L134.71,201.21 L135.21,201.04 L135.71,200.87 L136.21,200.70 L136.70,200.52 L137.20,200.35 L137.70,200.18 L138.20,200.01 L138.70,199.84 L139.20,199.66 L139.69,199.49 L140.19,199.32 L140.69,199.15 L141.19,198.97 L141.69,198.80 L142.19,198.63 L142.69,198.46 L143.18,198.29 L143.68,198.11 L144.18,197.94 L144.68,197.77 L145.18,197.60 L145.68,197.42 L146.17,197.25 L146.67,197.08 L147.17,196.91 L147.67,196.74 L148.17,196.56 L148.67,196.39 L149.16,196.22 L149.66,196.05 L150.16,195.88 L150.66,195.70 L151.16,195.53 L151.66,195.36 L152.15,195.19 L152.65,195.01 L153.15,194.84 L153.65,194.67 L154.15,194.50 L154.64,194.33 L155.14,194.15 L155.64,193.98 L156.14,193.81 L156.64,193.64 L157.14,193.46 L157.63,193.29 L158.13,193.12 L158.63,192.95 L159.13,192.78 L159.63,192.60 L160.13,192.43 L160.62,192.26 L161.12,192.09 L161.62,191.91 L162.12,191.74 L162.62,191.57 L163.12,191.40 L163.62,191.23 L164.11,191.05 L164.61,190.88 L165.11,190.71 L165.61,190.54 L166.11,190.37 L166.61,190.19 L167.10,190.02 L167.60,189.85 L168.10,189.68 L168.60,189.50 L169.10,189.33 L169.59,189.16 L170.09,188.99 L170.59,188.82 L171.09,188.64 L171.59,188.47 L172.09,188.30 L172.58,188.13 L173.08,187.95 L173.58,187.78 L174.08,187.61 L174.58,187.44 L175.08,187.27 L175.57,187.09 L176.07,186.92 L176.57,186.75 L177.07,186.58 L177.57,186.40 L178.07,186.23 L178.56,186.06 L179.06,185.89 L179.56,185.72 L180.06,185.54 L180.56,185.37 L181.06,185.20 L181.56,185.03 L182.05,184.86 L182.55,184.68 L183.05,184.51 L183.55,184.34 L184.05,184.17 L184.54,183.99 L185.04,183.82 L185.54,183.65 L186.04,183.48 L186.54,183.31 L187.04,183.13 L187.53,182.96 L188.03,182.79 L188.53,182.62 L189.03,182.44 L189.53,182.27 L190.03,182.10 L190.53,181.93 L191.02,181.76 L191.52,181.58 L192.02,181.41 L192.52,181.24 L193.02,181.07 L193.51,180.89 L194.01,180.72 L194.51,180.55 L195.01,180.38 L195.51,180.21 L196.01,180.03 L196.50,179.86 L197.00,179.69 L197.50,179.52 L198.00,179.35 L198.50,179.17 L199.00,179.00 L199.50,178.83 L199.99,178.66 L200.49,178.48 L200.99,178.31 L201.49,178.14 L201.99,177.97 L202.49,177.80 L202.98,177.62 L203.48,177.45 L203.98,177.28 L204.48,177.11 L204.98,176.93 L205.47,176.76 L205.97,176.59 L206.47,176.42 L206.97,176.25 L207.47,176.07 L207.97,175.90 L208.47,175.73 L208.96,175.56 L209.46,175.38 L209.96,175.21 L210.46,175.04 L210.96,174.87 L211.46,174.70 L211.95,174.52 L212.45,174.35 L212.95,174.18 L213.45,174.01 L213.95,173.84 L214.44,173.66 L214.94,173.49 L215.44,173.32 L215.94,173.15 L216.44,172.97 L216.94,172.80 L217.44,172.63 L217.93,172.46 L218.43,172.29 L218.93,172.11 L219.43,171.94 L219.93,171.77 L220.43,171.60 L220.92,171.42 L221.42,171.25 L221.92,171.08 L222.42,170.91 L222.92,170.74 L223.41,170.56 L223.91,170.39 L224.41,170.22 L224.91,170.05 L225.41,169.87 L225.91,169.70 L226.41,169.53 L226.90,169.36 L227.40,169.19 L227.90,169.01 L228.40,168.84 L228.90,168.67 L229.40,168.50 L229.89,168.33 L230.39,168.15 L230.89,167.98 L231.39,167.81 L231.89,167.64 L232.38,167.46 L232.88,167.29 L233.38,167.12 L233.88,166.95 L234.38,166.78 L234.88,166.60 L235.38,166.43 L235.87,166.26 L236.37,166.09 L236.87,165.91 L237.37,165.74 L237.87,165.57 L238.37,165.40 L238.86,165.23 L239.36,165.05 L239.86,164.88 L240.36,164.71 L240.86,164.54 L241.35,164.36 L241.85,164.19 L242.35,164.02 L242.85,163.85 L243.35,163.68 L243.85,163.50 L244.34,163.33 L244.84,163.16 L245.34,162.99 L245.84,162.82 L246.34,162.64 L246.84,162.47 L247.34,162.30 L247.83,162.13 L248.33,161.95 L248.83,161.78 L249.33,161.61 L249.83,161.44 L250.32,161.27 L250.82,161.09 L251.32,160.92 L251.82,160.75 L252.32,160.58 L252.82,160.40 L253.31,160.23 L253.81,160.06 L254.31,159.89 L254.81,159.72 L255.31,159.54 L255.81,159.37 L256.31,159.20 L256.80,159.03 L257.30,158.85 L257.80,158.68 L258.30,158.51 L258.80,158.34 L259.29,158.17 L259.79,157.99 L260.29,157.82 L260.79,157.65 L261.29,157.48 L261.79,157.31 L262.28,157.13 L262.78,156.96 L263.28,156.79 L263.78,156.62 L264.28,156.44 L264.78,156.27 L265.27,156.10 L265.77,155.93 L266.27,155.76 L266.77,155.58 L267.27,155.41 L267.77,155.24 L268.26,155.07 L268.76,154.89 L269.26,154.72 L269.76,154.55 L270.26,154.38 L270.76,154.21 L271.25,154.03 L271.75,153.86 L272.25,153.69 L272.75,153.52 L273.25,153.34 L273.75,153.17 L274.25,153.00 L274.74,152.83 L275.24,152.66 L275.74,152.48 L276.24,152.31 L276.74,152.14 L277.24,151.97 L277.73,151.80 L278.23,151.62 L278.73,151.45 L279.23,151.28 L279.73,151.11 L280.23,150.93 L280.72,150.76 L281.22,150.59 L281.72,150.42 L282.22,150.25 L282.72,150.07 L283.22,149.90 L283.71,149.73 L284.21,149.56 L284.71,149.38 L285.21,149.21 L285.71,149.04 L286.21,148.87 L286.70,148.70 L287.20,148.52 L287.70,148.35 L288.20,148.18 L288.70,148.01 L289.19,147.83 L289.69,147.66 L290.19,147.49 L290.69,147.32 L291.19,147.15 L291.69,146.97 L292.19,146.80 L292.68,146.63 L293.18,146.46 L293.68,146.29 L294.18,146.11 L294.68,145.94 L295.18,145.77 L295.67,145.60 L296.17,145.42 L296.67,145.25 L297.17,145.08 L297.67,144.91 L298.16,144.74 L298.66,144.56 L299.16,144.39 L299.66,144.22 L300.16,144.05 L300.66,143.87 L301.15,143.70 L301.65,143.53 L302.15,143.36 L302.65,143.19 L303.15,143.01 L303.65,142.84 L304.14,142.67 L304.64,142.50 L305.14,142.32 L305.64,142.15 L306.14,141.98 L306.64,141.81 L307.13,141.64 L307.63,141.46 L308.13,141.29 L308.63,141.12 L309.13,140.95 L309.63,140.78 L310.12,140.60 L310.62,140.43 L311.12,140.26 L311.62,140.09 L312.12,139.91 L312.62,139.74 L313.12,139.57 L313.61,139.40 L314.11,139.23 L314.61,139.05 L315.11,138.88 L315.61,138.71 L316.11,138.54 L316.60,138.36 L317.10,138.19 L317.60,138.02 L318.10,137.85 L318.60,137.68 L319.10,137.50 L319.59,137.33 L320.09,137.16 L320.59,136.99 L321.09,136.81 L321.59,136.64 L322.08,136.47 L322.58,136.30 L323.08,136.13 L323.58,135.95 L324.08,135.78 L324.58,135.61 L325.07,135.44 L325.57,135.27 L326.07,135.09 L326.57,134.92 L327.07,134.75 L327.57,134.58 L328.06,134.40 L328.56,134.23 L329.06,134.06 L329.56,133.89 L330.06,133.72 L330.56,133.54 L331.06,133.37 L331.55,133.20 L332.05,133.03 L332.55,132.85 L333.05,132.68 L333.55,132.51 L334.05,132.34 L334.54,132.17 L335.04,131.99 L335.54,131.82 L336.04,131.65 L336.54,131.48 L337.04,131.30 L337.53,131.13 L338.03,130.96 L338.53,130.79 L339.03,130.62 L339.53,130.44 L340.02,130.27 L340.52,130.10 L341.02,129.93 L341.52,129.76 L342.02,129.58 L342.52,129.41 L343.01,129.24 L343.51,129.07 L344.01,128.89 L344.51,128.72 L345.01,128.55 L345.51,128.38 L346.00,128.21 L346.50,128.03 L347.00,127.86 L347.50,127.69" fill="none" stroke="#00b0f0" stroke-width="1.6" stroke-linejoin="round"/>
<path d="M48.50,233.50 L49.00,233.17 L49.50,232.85 L49.99,232.53 L50.49,232.21 L50.99,231.90 L51.49,231.59 L51.99,231.29 L52.49,230.99 L52.98,230.70 L53.48,230.40 L53.98,230.11 L54.48,229.83 L54.98,229.55 L55.48,229.27 L55.98,228.99 L56.47,228.72 L56.97,228.45 L57.47,228.18 L57.97,227.92 L58.47,227.66 L58.97,227.40 L59.46,227.14 L59.96,226.89 L60.46,226.64 L60.96,226.39 L61.46,226.14 L61.95,225.89 L62.45,225.65 L62.95,225.41 L63.45,225.17 L63.95,224.93 L64.45,224.70 L64.94,224.47 L65.44,224.23 L65.94,224.00 L66.44,223.78 L66.94,223.55 L67.44,223.33 L67.94,223.10 L68.43,222.88 L68.93,222.66 L69.43,222.44 L69.93,222.22 L70.43,222.01 L70.92,221.79 L71.42,221.58 L71.92,221.37 L72.42,221.15 L72.92,220.94 L73.42,220.73 L73.91,220.53 L74.41,220.32 L74.91,220.11 L75.41,219.91 L75.91,219.70 L76.41,219.50 L76.91,219.30 L77.40,219.10 L77.90,218.90 L78.40,218.70 L78.90,218.50 L79.40,218.30 L79.89,218.10 L80.39,217.91 L80.89,217.71 L81.39,217.51 L81.89,217.32 L82.39,217.13 L82.88,216.93 L83.38,216.74 L83.88,216.55 L84.38,216.36 L84.88,216.16 L85.38,215.97 L85.88,215.78 L86.37,215.59 L86.87,215.41 L87.37,215.22 L87.87,215.03 L88.37,214.84 L88.87,214.66 L89.36,214.47 L89.86,214.28 L90.36,214.10 L90.86,213.91 L91.36,213.73 L91.85,213.54 L92.35,213.36 L92.85,213.17 L93.35,212.99 L93.85,212.81 L94.35,212.62 L94.84,212.44 L95.34,212.26 L95.84,212.08 L96.34,211.89 L96.84,211.71 L97.34,211.53 L97.84,211.35 L98.33,211.17 L98.83,210.99 L99.33,210.81 L99.83,210.63 L100.33,210.45 L100.83,210.27 L101.32,210.09 L101.82,209.91 L102.32,209.73 L102.82,209.55 L103.32,209.38 L103.81,209.20 L104.31,209.02 L104.81,208.84 L105.31,208.66 L105.81,208.49 L106.31,208.31 L106.81,208.13 L107.30,207.95 L107.80,207.78 L108.30,207.60 L108.80,207.42 L109.30,207.25 L109.80,207.07 L110.29,206.89 L110.79,206.72 L111.29,206.54 L111.79,206.36 L112.29,206.19 L112.78,206.01 L113.28,205.84 L113.78,205.66 L114.28,205.49 L114.78,205.31 L115.28,205.14 L115.78,204.96 L116.27,204.79 L116.77,204.61 L117.27,204.44 L117.77,204.26 L118.27,204.09 L118.77,203.91 L119.26,203.74 L119.76,203.56 L120.26,203.39 L120.76,203.21 L121.26,203.04 L121.75,202.86 L122.25,202.69 L122.75,202.52 L123.25,202.34 L123.75,202.17 L124.25,201.99 L124.75,201.82 L125.24,201.65 L125.74,201.47 L126.24,201.30 L126.74,201.12 L127.24,200.95 L127.73,200.78 L128.23,200.60 L128.73,200.43 L129.23,200.26 L129.73,200.08 L130.23,199.91 L130.72,199.74 L131.22,199.56 L131.72,199.39 L132.22,199.22 L132.72,199.04 L133.22,198.87 L133.72,198.70 L134.21,198.52 L134.71,198.35 L135.21,198.18 L135.71,198.00 L136.21,197.83 L136.70,197.66 L137.20,197.48 L137.70,197.31 L138.20,197.14 L138.70,196.96 L139.20,196.79 L139.69,196.62 L140.19,196.45 L140.69,196.27 L141.19,196.10 L141.69,195.93 L142.19,195.75 L142.69,195.58 L143.18,195.41 L143.68,195.24 L144.18,195.06 L144.68,194.89 L145.18,194.72 L145.68,194.54 L146.17,194.37 L146.67,194.20 L147.17,194.03 L147.67,193.85 L148.17,193.68 L148.67,193.51 L149.16,193.34 L149.66,193.16 L150.16,192.99 L150.66,192.82 L151.16,192.65 L151.66,192.47 L152.15,192.30 L152.65,192.13 L153.15,191.96 L153.65,191.78 L154.15,191.61 L154.64,191.44 L155.14,191.27 L155.64,191.09 L156.14,190.92 L156.64,190.75 L157.14,190.58 L157.63,190.40 L158.13,190.23 L158.63,190.06 L159.13,189.89 L159.63,189.71 L160.13,189.54 L160.62,189.37 L161.12,189.20 L161.62,189.02 L162.12,188.85 L162.62,188.68 L163.12,188.51 L163.62,188.33 L164.11,188.16 L164.61,187.99 L165.11,187.82 L165.61,187.65 L166.11,187.47 L166.61,187.30 L167.10,187.13 L167.60,186.96 L168.10,186.78 L168.60,186.61 L169.10,186.44 L169.59,186.27 L170.09,186.09 L170.59,185.92 L171.09,185.75 L171.59,185.58 L172.09,185.41 L172.58,185.23 L173.08,185.06 L173.58,184.89 L174.08,184.72 L174.58,184.54 L175.08,184.37 L175.57,184.20 L176.07,184.03 L176.57,183.85 L177.07,183.68 L177.57,183.51 L178.07,183.34 L178.56,183.17 L179.06,182.99 L179.56,182.82 L180.06,182.65 L180.56,182.48 L181.06,182.30 L181.56,182.13 L182.05,181.96 L182.55,181.79 L183.05,181.62 L183.55,181.44 L184.05,181.27 L184.54,181.10 L185.04,180.93 L185.54,180.75 L186.04,180.58 L186.54,180.41 L187.04,180.24 L187.53,180.07 L188.03,179.89 L188.53,179.72 L189.03,179.55 L189.53,179.38 L190.03,179.20 L190.53,179.03 L191.02,178.86 L191.52,178.69 L192.02,178.52 L192.52,178.34 L193.02,178.17 L193.51,178.00 L194.01,177.83 L194.51,177.65 L195.01,177.48 L195.51,177.31 L196.01,177.14 L196.50,176.97 L197.00,176.79 L197.50,176.62 L198.00,176.45 L198.50,176.28 L199.00,176.10 L199.50,175.93 L199.99,175.76 L200.49,175.59 L200.99,175.42 L201.49,175.24 L201.99,175.07 L202.49,174.90 L202.98,174.73 L203.48,174.55 L203.98,174.38 L204.48,174.21 L204.98,174.04 L205.47,173.87 L205.97,173.69 L206.47,173.52 L206.97,173.35 L207.47,173.18 L207.97,173.00 L208.47,172.83 L208.96,172.66 L209.46,172.49 L209.96,172.32 L210.46,172.14 L210.96,171.97 L211.46,171.80 L211.95,171.63 L212.45,171.45 L212.95,171.28 L213.45,171.11 L213.95,170.94 L214.44,170.77 L214.94,170.59 L215.44,170.42 L215.94,170.25 L216.44,170.08 L216.94,169.90 L217.44,169.73 L217.93,169.56 L218.43,169.39 L218.93,169.22 L219.43,169.04 L219.93,168.87 L220.43,168.70 L220.92,168.53 L221.42,168.36 L221.92,168.18 L222.42,168.01 L222.92,167.84 L223.41,167.67 L223.91,167.49 L224.41,167.32 L224.91,167.15 L225.41,166.98 L225.91,166.81 L226.41,166.63 L226.90,166.46 L227.40,166.29 L227.90,166.12 L228.40,165.94 L228.90,165.77 L229.40,165.60 L229.89,165.43 L230.39,165.26 L230.89,165.08 L231.39,164.91 L231.89,164.74 L232.38,164.57 L232.88,164.39 L233.38,164.22 L233.88,164.05 L234.38,163.88 L234.88,163.71 L235.38,163.53 L235.87,163.36 L236.37,163.19 L236.87,163.02 L237.37,162.85 L237.87,162.67 L238.37,162.50 L238.86,162.33 L239.36,162.16 L239.86,161.98 L240.36,161.81 L240.86,161.64 L241.35,161.47 L241.85,161.30 L242.35,161.12 L242.85,160.95 L243.35,160.78 L243.85,160.61 L244.34,160.43 L244.84,160.26 L245.34,160.09 L245.84,159.92 L246.34,159.75 L246.84,159.57 L247.34,159.40 L247.83,159.23 L248.33,159.06 L248.83,158.88 L249.33,158.71 L249.83,158.54 L250.32,158.37 L250.82,158.20 L251.32,158.02 L251.82,157.85 L252.32,157.68 L252.82,157.51 L253.31,157.33 L253.81,157.16 L254.31,156.99 L254.81,156.82 L255.31,156.65 L255.81,156.47 L256.31,156.30 L256.80,156.13 L257.30,155.96 L257.80,155.79 L258.30,155.61 L258.80,155.44 L259.29,155.27 L259.79,155.10 L260.29,154.92 L260.79,154.75 L261.29,154.58 L261.79,154.41 L262.28,154.24 L262.78,154.06 L263.28,153.89 L263.78,153.72 L264.28,153.55 L264.78,153.37 L265.27,153.20 L265.77,153.03 L266.27,152.86 L266.77,152.69 L267.27,152.51 L267.77,152.34 L268.26,152.17 L268.76,152.00 L269.26,151.82 L269.76,151.65 L270.26,151.48 L270.76,151.31 L271.25,151.14 L271.75,150.96 L272.25,150.79 L272.75,150.62 L273.25,150.45 L273.75,150.28 L274.25,150.10 L274.74,149.93 L275.24,149.76 L275.74,149.59 L276.24,149.41 L276.74,149.24 L277.24,149.07 L277.73,148.90 L278.23,148.73 L278.73,148.55 L279.23,148.38 L279.73,148.21 L280.23,148.04 L280.72,147.86 L281.22,147.69 L281.72,147.52 L282.22,147.35 L282.72,147.18 L283.22,147.00 L283.71,146.83 L284.21,146.66 L284.71,146.49 L285.21,146.31 L285.71,146.14 L286.21,145.97 L286.70,145.80 L287.20,145.63 L287.70,145.45 L288.20,145.28 L288.70,145.11 L289.19,144.94 L289.69,144.77 L290.19,144.59 L290.69,144.42 L291.19,144.25 L291.69,144.08 L292.19,143.90 L292.68,143.73 L293.18,143.56 L293.68,143.39 L294.18,143.22 L294.68,143.04 L295.18,142.87 L295.67,142.70 L296.17,142.53 L296.67,142.35 L297.17,142.18 L297.67,142.01 L298.16,141.84 L298.66,141.67 L299.16,141.49 L299.66,141.32 L300.16,141.15 L300.66,140.98 L301.15,140.80 L301.65,140.63 L302.15,140.46 L302.65,140.29 L303.15,140.12 L303.65,139.94 L304.14,139.77 L304.64,139.60 L305.14,139.43 L305.64,139.26 L306.14,139.08 L306.64,138.91 L307.13,138.74 L307.63,138.57 L308.13,138.39 L308.63,138.22 L309.13,138.05 L309.63,137.88 L310.12,137.71 L310.62,137.53 L311.12,137.36 L311.62,137.19 L312.12,137.02 L312.62,136.84 L313.12,136.67 L313.61,136.50 L314.11,136.33 L314.61,136.16 L315.11,135.98 L315.61,135.81 L316.11,135.64 L316.60,135.47 L317.10,135.29 L317.60,135.12 L318.10,134.95 L318.60,134.78 L319.10,134.61 L319.59,134.43 L320.09,134.26 L320.59,134.09 L321.09,133.92 L321.59,133.75 L322.08,133.57 L322.58,133.40 L323.08,133.23 L323.58,133.06 L324.08,132.88 L324.58,132.71 L325.07,132.54 L325.57,132.37 L326.07,132.20 L326.57,132.02 L327.07,131.85 L327.57,131.68 L328.06,131.51 L328.56,131.33 L329.06,131.16 L329.56,130.99 L330.06,130.82 L330.56,130.65 L331.06,130.47 L331.55,130.30 L332.05,130.13 L332.55,129.96 L333.05,129.78 L333.55,129.61 L334.05,129.44 L334.54,129.27 L335.04,129.10 L335.54,128.92 L336.04,128.75 L336.54,128.58 L337.04,128.41 L337.53,128.24 L338.03,128.06 L338.53,127.89 L339.03,127.72 L339.53,127.55 L340.02,127.37 L340.52,127.20 L341.02,127.03 L341.52,126.86 L342.02,126.69 L342.52,126.51 L343.01,126.34 L343.51,126.17 L344.01,126.00 L344.51,125.82 L345.01,125.65 L345.51,125.48 L346.00,125.31 L346.50,125.14 L347.00,124.96 L347.50,124.79" fill="none" stroke="#253070" stroke-width="1.6" stroke-dasharray="4.2,3.24" stroke-linejoin="round"/>
<path d="M48.50,233.50 L49.00,233.17 L49.50,232.83 L49.99,232.50 L50.49,232.18 L50.99,231.85 L51.49,231.53 L51.99,231.21 L52.49,230.89 L52.98,230.57 L53.48,230.26 L53.98,229.95 L54.48,229.64 L54.98,229.33 L55.48,229.02 L55.98,228.72 L56.47,228.42 L56.97,228.12 L57.47,227.82 L57.97,227.52 L58.47,227.23 L58.97,226.93 L59.46,226.64 L59.96,226.35 L60.46,226.06 L60.96,225.78 L61.46,225.49 L61.95,225.21 L62.45,224.93 L62.95,224.65 L63.45,224.37 L63.95,224.09 L64.45,223.82 L64.94,223.54 L65.44,223.27 L65.94,223.00 L66.44,222.73 L66.94,222.46 L67.44,222.20 L67.94,221.93 L68.43,221.67 L68.93,221.41 L69.43,221.14 L69.93,220.88 L70.43,220.63 L70.92,220.37 L71.42,220.11 L71.92,219.86 L72.42,219.60 L72.92,219.35 L73.42,219.10 L73.91,218.85 L74.41,218.60 L74.91,218.35 L75.41,218.10 L75.91,217.86 L76.41,217.61 L76.91,217.37 L77.40,217.13 L77.90,216.89 L78.40,216.64 L78.90,216.40 L79.40,216.17 L79.89,215.93 L80.39,215.69 L80.89,215.46 L81.39,215.22 L81.89,214.99 L82.39,214.75 L82.88,214.52 L83.38,214.29 L83.88,214.06 L84.38,213.83 L84.88,213.60 L85.38,213.37 L85.88,213.15 L86.37,212.92 L86.87,212.69 L87.37,212.47 L87.87,212.24 L88.37,212.02 L88.87,211.80 L89.36,211.58 L89.86,211.35 L90.36,211.13 L90.86,210.91 L91.36,210.70 L91.85,210.48 L92.35,210.26 L92.85,210.04 L93.35,209.83 L93.85,209.61 L94.35,209.39 L94.84,209.18 L95.34,208.97 L95.84,208.75 L96.34,208.54 L96.84,208.33 L97.34,208.12 L97.84,207.91 L98.33,207.70 L98.83,207.49 L99.33,207.28 L99.83,207.07 L100.33,206.86 L100.83,206.65 L101.32,206.44 L101.82,206.24 L102.32,206.03 L102.82,205.83 L103.32,205.62 L103.81,205.42 L104.31,205.21 L104.81,205.01 L105.31,204.80 L105.81,204.60 L106.31,204.40 L106.81,204.20 L107.30,203.99 L107.80,203.79 L108.30,203.59 L108.80,203.39 L109.30,203.19 L109.80,202.99 L110.29,202.79 L110.79,202.59 L111.29,202.40 L111.79,202.20 L112.29,202.00 L112.78,201.80 L113.28,201.61 L113.78,201.41 L114.28,201.21 L114.78,201.02 L115.28,200.82 L115.78,200.63 L116.27,200.43 L116.77,200.24 L117.27,200.04 L117.77,199.85 L118.27,199.66 L118.77,199.46 L119.26,199.27 L119.76,199.08 L120.26,198.89 L120.76,198.69 L121.26,198.50 L121.75,198.31 L122.25,198.12 L122.75,197.93 L123.25,197.74 L123.75,197.55 L124.25,197.36 L124.75,197.17 L125.24,196.98 L125.74,196.79 L126.24,196.60 L126.74,196.41 L127.24,196.22 L127.73,196.03 L128.23,195.85 L128.73,195.66 L129.23,195.47 L129.73,195.28 L130.23,195.09 L130.72,194.91 L131.22,194.72 L131.72,194.53 L132.22,194.35 L132.72,194.16 L133.22,193.98 L133.72,193.79 L134.21,193.60 L134.71,193.42 L135.21,193.23 L135.71,193.05 L136.21,192.86 L136.70,192.68 L137.20,192.50 L137.70,192.31 L138.20,192.13 L138.70,191.94 L139.20,191.76 L139.69,191.58 L140.19,191.39 L140.69,191.21 L141.19,191.03 L141.69,190.84 L142.19,190.66 L142.69,190.48 L143.18,190.29 L143.68,190.11 L144.18,189.93 L144.68,189.75 L145.18,189.57 L145.68,189.38 L146.17,189.20 L146.67,189.02 L147.17,188.84 L147.67,188.66 L148.17,188.48 L148.67,188.30 L149.16,188.12 L149.66,187.94 L150.16,187.75 L150.66,187.57 L151.16,187.39 L151.66,187.21 L152.15,187.03 L152.65,186.85 L153.15,186.67 L153.65,186.49 L154.15,186.31 L154.64,186.13 L155.14,185.96 L155.64,185.78 L156.14,185.60 L156.64,185.42 L157.14,185.24 L157.63,185.06 L158.13,184.88 L158.63,184.70 L159.13,184.52 L159.63,184.34 L160.13,184.17 L160.62,183.99 L161.12,183.81 L161.62,183.63 L162.12,183.45 L162.62,183.28 L163.12,183.10 L163.62,182.92 L164.11,182.74 L164.61,182.56 L165.11,182.39 L165.61,182.21 L166.11,182.03 L166.61,181.85 L167.10,181.68 L167.60,181.50 L168.10,181.32 L168.60,181.15 L169.10,180.97 L169.59,180.79 L170.09,180.61 L170.59,180.44 L171.09,180.26 L171.59,180.08 L172.09,179.91 L172.58,179.73 L173.08,179.55 L173.58,179.38 L174.08,179.20 L174.58,179.03 L175.08,178.85 L175.57,178.67 L176.07,178.50 L176.57,178.32 L177.07,178.14 L177.57,177.97 L178.07,177.79 L178.56,177.62 L179.06,177.44 L179.56,177.27 L180.06,177.09 L180.56,176.91 L181.06,176.74 L181.56,176.56 L182.05,176.39 L182.55,176.21 L183.05,176.04 L183.55,175.86 L184.05,175.69 L184.54,175.51 L185.04,175.34 L185.54,175.16 L186.04,174.99 L186.54,174.81 L187.04,174.64 L187.53,174.46 L188.03,174.29 L188.53,174.11 L189.03,173.94 L189.53,173.76 L190.03,173.59 L190.53,173.41 L191.02,173.24 L191.52,173.06 L192.02,172.89 L192.52,172.71 L193.02,172.54 L193.51,172.36 L194.01,172.19 L194.51,172.01 L195.01,171.84 L195.51,171.67 L196.01,171.49 L196.50,171.32 L197.00,171.14 L197.50,170.97 L198.00,170.79 L198.50,170.62 L199.00,170.45 L199.50,170.27 L199.99,170.10 L200.49,169.92 L200.99,169.75 L201.49,169.57 L201.99,169.40 L202.49,169.23 L202.98,169.05 L203.48,168.88 L203.98,168.70 L204.48,168.53 L204.98,168.36 L205.47,168.18 L205.97,168.01 L206.47,167.84 L206.97,167.66 L207.47,167.49 L207.97,167.31 L208.47,167.14 L208.96,166.97 L209.46,166.79 L209.96,166.62 L210.46,166.45 L210.96,166.27 L211.46,166.10 L211.95,165.93 L212.45,165.75 L212.95,165.58 L213.45,165.40 L213.95,165.23 L214.44,165.06 L214.94,164.88 L215.44,164.71 L215.94,164.54 L216.44,164.36 L216.94,164.19 L217.44,164.02 L217.93,163.84 L218.43,163.67 L218.93,163.50 L219.43,163.32 L219.93,163.15 L220.43,162.98 L220.92,162.80 L221.42,162.63 L221.92,162.46 L222.42,162.28 L222.92,162.11 L223.41,161.94 L223.91,161.77 L224.41,161.59 L224.91,161.42 L225.41,161.25 L225.91,161.07 L226.41,160.90 L226.90,160.73 L227.40,160.55 L227.90,160.38 L228.40,160.21 L228.90,160.03 L229.40,159.86 L229.89,159.69 L230.39,159.52 L230.89,159.34 L231.39,159.17 L231.89,159.00 L232.38,158.82 L232.88,158.65 L233.38,158.48 L233.88,158.30 L234.38,158.13 L234.88,157.96 L235.38,157.79 L235.87,157.61 L236.37,157.44 L236.87,157.27 L237.37,157.09 L237.87,156.92 L238.37,156.75 L238.86,156.58 L239.36,156.40 L239.86,156.23 L240.36,156.06 L240.86,155.88 L241.35,155.71 L241.85,155.54 L242.35,155.37 L242.85,155.19 L243.35,155.02 L243.85,154.85 L244.34,154.68 L244.84,154.50 L245.34,154.33 L245.84,154.16 L246.34,153.98 L246.84,153.81 L247.34,153.64 L247.83,153.47 L248.33,153.29 L248.83,153.12 L249.33,152.95 L249.83,152.78 L250.32,152.60 L250.82,152.43 L251.32,152.26 L251.82,152.09 L252.32,151.91 L252.82,151.74 L253.31,151.57 L253.81,151.40 L254.31,151.22 L254.81,151.05 L255.31,150.88 L255.81,150.71 L256.31,150.53 L256.80,150.36 L257.30,150.19 L257.80,150.01 L258.30,149.84 L258.80,149.67 L259.29,149.50 L259.79,149.32 L260.29,149.15 L260.79,148.98 L261.29,148.81 L261.79,148.63 L262.28,148.46 L262.78,148.29 L263.28,148.12 L263.78,147.94 L264.28,147.77 L264.78,147.60 L265.27,147.43 L265.77,147.25 L266.27,147.08 L266.77,146.91 L267.27,146.74 L267.77,146.56 L268.26,146.39 L268.76,146.22 L269.26,146.05 L269.76,145.88 L270.26,145.70 L270.76,145.53 L271.25,145.36 L271.75,145.19 L272.25,145.01 L272.75,144.84 L273.25,144.67 L273.75,144.50 L274.25,144.32 L274.74,144.15 L275.24,143.98 L275.74,143.81 L276.24,143.63 L276.74,143.46 L277.24,143.29 L277.73,143.12 L278.23,142.94 L278.73,142.77 L279.23,142.60 L279.73,142.43 L280.23,142.25 L280.72,142.08 L281.22,141.91 L281.72,141.74 L282.22,141.57 L282.72,141.39 L283.22,141.22 L283.71,141.05 L284.21,140.88 L284.71,140.70 L285.21,140.53 L285.71,140.36 L286.21,140.19 L286.70,140.01 L287.20,139.84 L287.70,139.67 L288.20,139.50 L288.70,139.32 L289.19,139.15 L289.69,138.98 L290.19,138.81 L290.69,138.64 L291.19,138.46 L291.69,138.29 L292.19,138.12 L292.68,137.95 L293.18,137.77 L293.68,137.60 L294.18,137.43 L294.68,137.26 L295.18,137.08 L295.67,136.91 L296.17,136.74 L296.67,136.57 L297.17,136.40 L297.67,136.22 L298.16,136.05 L298.66,135.88 L299.16,135.71 L299.66,135.53 L300.16,135.36 L300.66,135.19 L301.15,135.02 L301.65,134.84 L302.15,134.67 L302.65,134.50 L303.15,134.33 L303.65,134.16 L304.14,133.98 L304.64,133.81 L305.14,133.64 L305.64,133.47 L306.14,133.29 L306.64,133.12 L307.13,132.95 L307.63,132.78 L308.13,132.60 L308.63,132.43 L309.13,132.26 L309.63,132.09 L310.12,131.92 L310.62,131.74 L311.12,131.57 L311.62,131.40 L312.12,131.23 L312.62,131.05 L313.12,130.88 L313.61,130.71 L314.11,130.54 L314.61,130.37 L315.11,130.19 L315.61,130.02 L316.11,129.85 L316.60,129.68 L317.10,129.50 L317.60,129.33 L318.10,129.16 L318.60,128.99 L319.10,128.82 L319.59,128.64 L320.09,128.47 L320.59,128.30 L321.09,128.13 L321.59,127.95 L322.08,127.78 L322.58,127.61 L323.08,127.44 L323.58,127.27 L324.08,127.09 L324.58,126.92 L325.07,126.75 L325.57,126.58 L326.07,126.40 L326.57,126.23 L327.07,126.06 L327.57,125.89 L328.06,125.71 L328.56,125.54 L329.06,125.37 L329.56,125.20 L330.06,125.03 L330.56,124.85 L331.06,124.68 L331.55,124.51 L332.05,124.34 L332.55,124.16 L333.05,123.99 L333.55,123.82 L334.05,123.65 L334.54,123.48 L335.04,123.30 L335.54,123.13 L336.04,122.96 L336.54,122.79 L337.04,122.61 L337.53,122.44 L338.03,122.27 L338.53,122.10 L339.03,121.93 L339.53,121.75 L340.02,121.58 L340.52,121.41 L341.02,121.24 L341.52,121.06 L342.02,120.89 L342.52,120.72 L343.01,120.55 L343.51,120.38 L344.01,120.20 L344.51,120.03 L345.01,119.86 L345.51,119.69 L346.00,119.51 L346.50,119.34 L347.00,119.17 L347.50,119.00" fill="none" stroke="#4aa8c0" stroke-width="1.4" stroke-linejoin="round"/>
<path d="M48.50,233.50 L49.00,233.21 L49.50,232.95 L49.99,232.69 L50.49,232.45 L50.99,232.23 L51.49,232.01 L51.99,231.81 L52.49,231.62 L52.98,231.45 L53.48,231.28 L53.98,231.12 L54.48,230.97 L54.98,230.83 L55.48,230.70 L55.98,230.57 L56.47,230.45 L56.97,230.34 L57.47,230.24 L57.97,230.14 L58.47,230.04 L58.97,229.96 L59.46,229.87 L59.96,229.79 L60.46,229.72 L60.96,229.65 L61.46,229.59 L61.95,229.52 L62.45,229.47 L62.95,229.41 L63.45,229.36 L63.95,229.31 L64.45,229.26 L64.94,229.22 L65.44,229.18 L65.94,229.14 L66.44,229.10 L66.94,229.07 L67.44,229.04 L67.94,229.01 L68.43,228.98 L68.93,228.95 L69.43,228.93 L69.93,228.90 L70.43,228.88 L70.92,228.86 L71.42,228.84 L71.92,228.82 L72.42,228.80 L72.92,228.78 L73.42,228.77 L73.91,228.75 L74.41,228.74 L74.91,228.72 L75.41,228.71 L75.91,228.70 L76.41,228.69 L76.91,228.68 L77.40,228.67 L77.90,228.66 L78.40,228.65 L78.90,228.64 L79.40,228.63 L79.89,228.63 L80.39,228.62 L80.89,228.61 L81.39,228.61 L81.89,228.60 L82.39,228.59 L82.88,228.59 L83.38,228.58 L83.88,228.58 L84.38,228.58 L84.88,228.57 L85.38,228.57 L85.88,228.56 L86.37,228.56 L86.87,228.56 L87.37,228.55 L87.87,228.55 L88.37,228.55 L88.87,228.55 L89.36,228.54 L89.86,228.54 L90.36,228.54 L90.86,228.54 L91.36,228.53 L91.85,228.53 L92.35,228.53 L92.85,228.53 L93.35,228.53 L93.85,228.53 L94.35,228.53 L94.84,228.52 L95.34,228.52 L95.84,228.52 L96.34,228.52 L96.84,228.52 L97.34,228.52 L97.84,228.52 L98.33,228.52 L98.83,228.52 L99.33,228.52 L99.83,228.51 L100.33,228.51 L100.83,228.51 L101.32,228.51 L101.82,228.51 L102.32,228.51 L102.82,228.51 L103.32,228.51 L103.81,228.51 L104.31,228.51 L104.81,228.51 L105.31,228.51 L105.81,228.51 L106.31,228.51 L106.81,228.51 L107.30,228.51 L107.80,228.51 L108.30,228.51 L108.80,228.51 L109.30,228.51 L109.80,228.51 L110.29,228.51 L110.79,228.51 L111.29,228.51 L111.79,228.51 L112.29,228.51 L112.78,228.51 L113.28,228.51 L113.78,228.51 L114.28,228.51 L114.78,228.50 L115.28,228.50 L115.78,228.50 L116.27,228.50 L116.77,228.50 L117.27,228.50 L117.77,228.50 L118.27,228.50 L118.77,228.50 L119.26,228.50 L119.76,228.50 L120.26,228.50 L120.76,228.50 L121.26,228.50 L121.75,228.50 L122.25,228.50 L122.75,228.50 L123.25,228.50 L123.75,228.50 L124.25,228.50 L124.75,228.50 L125.24,228.50 L125.74,228.50 L126.24,228.50 L126.74,228.50 L127.24,228.50 L127.73,228.50 L128.23,228.50 L128.73,228.50 L129.23,228.50 L129.73,228.50 L130.23,228.50 L130.72,228.50 L131.22,228.50 L131.72,228.50 L132.22,228.50 L132.72,228.50 L133.22,228.50 L133.72,228.50 L134.21,228.50 L134.71,228.50 L135.21,228.50 L135.71,228.50 L136.21,228.50 L136.70,228.50 L137.20,228.50 L137.70,228.50 L138.20,228.50 L138.70,228.50 L139.20,228.50 L139.69,228.50 L140.19,228.50 L140.69,228.50 L141.19,228.50 L141.69,228.50 L142.19,228.50 L142.69,228.50 L143.18,228.50 L143.68,228.50 L144.18,228.50 L144.68,228.50 L145.18,228.50 L145.68,228.50 L146.17,228.50 L146.67,228.50 L147.17,228.50 L147.67,228.50 L148.17,228.50 L148.67,228.50 L149.16,228.50 L149.66,228.50 L150.16,228.50 L150.66,228.50 L151.16,228.50 L151.66,228.50 L152.15,228.50 L152.65,228.50 L153.15,228.50 L153.65,228.50 L154.15,228.50 L154.64,228.50 L155.14,228.50 L155.64,228.50 L156.14,228.50 L156.64,228.50 L157.14,228.50 L157.63,228.50 L158.13,228.50 L158.63,228.50 L159.13,228.50 L159.63,228.50 L160.13,228.50 L160.62,228.50 L161.12,228.50 L161.62,228.50 L162.12,228.50 L162.62,228.50 L163.12,228.50 L163.62,228.50 L164.11,228.50 L164.61,228.50 L165.11,228.50 L165.61,228.50 L166.11,228.50 L166.61,228.50 L167.10,228.50 L167.60,228.50 L168.10,228.50 L168.60,228.50 L169.10,228.50 L169.59,228.50 L170.09,228.50 L170.59,228.50 L171.09,228.50 L171.59,228.50 L172.09,228.50 L172.58,228.50 L173.08,228.50 L173.58,228.50 L174.08,228.50 L174.58,228.50 L175.08,228.50 L175.57,228.50 L176.07,228.50 L176.57,228.50 L177.07,228.50 L177.57,228.50 L178.07,228.50 L178.56,228.50 L179.06,228.50 L179.56,228.50 L180.06,228.50 L180.56,228.50 L181.06,228.50 L181.56,228.50 L182.05,228.50 L182.55,228.50 L183.05,228.50 L183.55,228.50 L184.05,228.50 L184.54,228.50 L185.04,228.50 L185.54,228.50 L186.04,228.50 L186.54,228.50 L187.04,228.50 L187.53,228.50 L188.03,228.50 L188.53,228.50 L189.03,228.50 L189.53,228.50 L190.03,228.50 L190.53,228.50 L191.02,228.50 L191.52,228.50 L192.02,228.50 L192.52,228.50 L193.02,228.50 L193.51,228.50 L194.01,228.50 L194.51,228.50 L195.01,228.50 L195.51,228.50 L196.01,228.50 L196.50,228.50 L197.00,228.50 L197.50,228.50 L198.00,228.50 L198.50,228.50 L199.00,228.50 L199.50,228.50 L199.99,228.50 L200.49,228.50 L200.99,228.50 L201.49,228.50 L201.99,228.50 L202.49,228.50 L202.98,228.50 L203.48,228.50 L203.98,228.50 L204.48,228.50 L204.98,228.50 L205.47,228.50 L205.97,228.50 L206.47,228.50 L206.97,228.50 L207.47,228.50 L207.97,228.50 L208.47,228.50 L208.96,228.50 L209.46,228.50 L209.96,228.50 L210.46,228.50 L210.96,228.50 L211.46,228.50 L211.95,228.50 L212.45,228.50 L212.95,228.50 L213.45,228.50 L213.95,228.50 L214.44,228.50 L214.94,228.50 L215.44,228.50 L215.94,228.50 L216.44,228.50 L216.94,228.50 L217.44,228.50 L217.93,228.50 L218.43,228.50 L218.93,228.50 L219.43,228.50 L219.93,228.50 L220.43,228.50 L220.92,228.50 L221.42,228.50 L221.92,228.50 L222.42,228.50 L222.92,228.50 L223.41,228.50 L223.91,228.50 L224.41,228.50 L224.91,228.50 L225.41,228.50 L225.91,228.50 L226.41,228.50 L226.90,228.50 L227.40,228.50 L227.90,228.50 L228.40,228.50 L228.90,228.50 L229.40,228.50 L229.89,228.50 L230.39,228.50 L230.89,228.50 L231.39,228.50 L231.89,228.50 L232.38,228.50 L232.88,228.50 L233.38,228.50 L233.88,228.50 L234.38,228.50 L234.88,228.50 L235.38,228.50 L235.87,228.50 L236.37,228.50 L236.87,228.50 L237.37,228.50 L237.87,228.50 L238.37,228.50 L238.86,228.50 L239.36,228.50 L239.86,228.50 L240.36,228.50 L240.86,228.50 L241.35,228.50 L241.85,228.50 L242.35,228.50 L242.85,228.50 L243.35,228.50 L243.85,228.50 L244.34,228.50 L244.84,228.50 L245.34,228.50 L245.84,228.50 L246.34,228.50 L246.84,228.50 L247.34,228.50 L247.83,228.50 L248.33,228.50 L248.83,228.50 L249.33,228.50 L249.83,228.50 L250.32,228.50 L250.82,228.50 L251.32,228.50 L251.82,228.50 L252.32,228.50 L252.82,228.50 L253.31,228.50 L253.81,228.50 L254.31,228.50 L254.81,228.50 L255.31,228.50 L255.81,228.50 L256.31,228.50 L256.80,228.50 L257.30,228.50 L257.80,228.50 L258.30,228.50 L258.80,228.50 L259.29,228.50 L259.79,228.50 L260.29,228.50 L260.79,228.50 L261.29,228.50 L261.79,228.50 L262.28,228.50 L262.78,228.50 L263.28,228.50 L263.78,228.50 L264.28,228.50 L264.78,228.50 L265.27,228.50 L265.77,228.50 L266.27,228.50 L266.77,228.50 L267.27,228.50 L267.77,228.50 L268.26,228.50 L268.76,228.50 L269.26,228.50 L269.76,228.50 L270.26,228.50 L270.76,228.50 L271.25,228.50 L271.75,228.50 L272.25,228.50 L272.75,228.50 L273.25,228.50 L273.75,228.50 L274.25,228.50 L274.74,228.50 L275.24,228.50 L275.74,228.50 L276.24,228.50 L276.74,228.50 L277.24,228.50 L277.73,228.50 L278.23,228.50 L278.73,228.50 L279.23,228.50 L279.73,228.50 L280.23,228.50 L280.72,228.50 L281.22,228.50 L281.72,228.50 L282.22,228.50 L282.72,228.50 L283.22,228.50 L283.71,228.50 L284.21,228.50 L284.71,228.50 L285.21,228.50 L285.71,228.50 L286.21,228.50 L286.70,228.50 L287.20,228.50 L287.70,228.50 L288.20,228.50 L288.70,228.50 L289.19,228.50 L289.69,228.50 L290.19,228.50 L290.69,228.50 L291.19,228.50 L291.69,228.50 L292.19,228.50 L292.68,228.50 L293.18,228.50 L293.68,228.50 L294.18,228.50 L294.68,228.50 L295.18,228.50 L295.67,228.50 L296.17,228.50 L296.67,228.50 L297.17,228.50 L297.67,228.50 L298.16,228.50 L298.66,228.50 L299.16,228.50 L299.66,228.50 L300.16,228.50 L300.66,228.50 L301.15,228.50 L301.65,228.50 L302.15,228.50 L302.65,228.50 L303.15,228.50 L303.65,228.50 L304.14,228.50 L304.64,228.50 L305.14,228.50 L305.64,228.50 L306.14,228.50 L306.64,228.50 L307.13,228.50 L307.63,228.50 L308.13,228.50 L308.63,228.50 L309.13,228.50 L309.63,228.50 L310.12,228.50 L310.62,228.50 L311.12,228.50 L311.62,228.50 L312.12,228.50 L312.62,228.50 L313.12,228.50 L313.61,228.50 L314.11,228.50 L314.61,228.50 L315.11,228.50 L315.61,228.50 L316.11,228.50 L316.60,228.50 L317.10,228.50 L317.60,228.50 L318.10,228.50 L318.60,228.50 L319.10,228.50 L319.59,228.50 L320.09,228.50 L320.59,228.50 L321.09,228.50 L321.59,228.50 L322.08,228.50 L322.58,228.50 L323.08,228.50 L323.58,228.50 L324.08,228.50 L324.58,228.50 L325.07,228.50 L325.57,228.50 L326.07,228.50 L326.57,228.50 L327.07,228.50 L327.57,228.50 L328.06,228.50 L328.56,228.50 L329.06,228.50 L329.56,228.50 L330.06,228.50 L330.56,228.50 L331.06,228.50 L331.55,228.50 L332.05,228.50 L332.55,228.50 L333.05,228.50 L333.55,228.50 L334.05,228.50 L334.54,228.50 L335.04,228.50 L335.54,228.50 L336.04,228.50 L336.54,228.50 L337.04,228.50 L337.53,228.50 L338.03,228.50 L338.53,228.50 L339.03,228.50 L339.53,228.50 L340.02,228.50 L340.52,228.50 L341.02,228.50 L341.52,228.50 L342.02,228.50 L342.52,228.50 L343.01,228.50 L343.51,228.50 L344.01,228.50 L344.51,228.50 L345.01,228.50 L345.51,228.50 L346.00,228.50 L346.50,228.50 L347.00,228.50 L347.50,228.50" fill="none" stroke="#f266f2" stroke-width="1.4" stroke-linejoin="round"/>
<path d="M48.50,233.50 L49.00,233.19 L49.50,232.88 L49.99,232.59 L50.49,232.30 L50.99,232.02 L51.49,231.75 L51.99,231.49 L52.49,231.24 L52.98,230.99 L53.48,230.75 L53.98,230.52 L54.48,230.29 L54.98,230.07 L55.48,229.86 L55.98,229.65 L56.47,229.45 L56.97,229.25 L57.47,229.06 L57.97,228.88 L58.47,228.70 L58.97,228.53 L59.46,228.36 L59.96,228.19 L60.46,228.04 L60.96,227.88 L61.46,227.73 L61.95,227.59 L62.45,227.44 L62.95,227.31 L63.45,227.17 L63.95,227.04 L64.45,226.92 L64.94,226.80 L65.44,226.68 L65.94,226.56 L66.44,226.45 L66.94,226.34 L67.44,226.24 L67.94,226.14 L68.43,226.04 L68.93,225.94 L69.43,225.85 L69.93,225.75 L70.43,225.67 L70.92,225.58 L71.42,225.50 L71.92,225.42 L72.42,225.34 L72.92,225.26 L73.42,225.19 L73.91,225.12 L74.41,225.05 L74.91,224.98 L75.41,224.91 L75.91,224.85 L76.41,224.79 L76.91,224.73 L77.40,224.67 L77.90,224.61 L78.40,224.56 L78.90,224.50 L79.40,224.45 L79.89,224.40 L80.39,224.35 L80.89,224.30 L81.39,224.26 L81.89,224.21 L82.39,224.17 L82.88,224.13 L83.38,224.09 L83.88,224.05 L84.38,224.01 L84.88,223.97 L85.38,223.93 L85.88,223.90 L86.37,223.86 L86.87,223.83 L87.37,223.80 L87.87,223.76 L88.37,223.73 L88.87,223.70 L89.36,223.68 L89.86,223.65 L90.36,223.62 L90.86,223.59 L91.36,223.57 L91.85,223.54 L92.35,223.52 L92.85,223.50 L93.35,223.47 L93.85,223.45 L94.35,223.43 L94.84,223.41 L95.34,223.39 L95.84,223.37 L96.34,223.35 L96.84,223.33 L97.34,223.31 L97.84,223.29 L98.33,223.28 L98.83,223.26 L99.33,223.25 L99.83,223.23 L100.33,223.21 L100.83,223.20 L101.32,223.19 L101.82,223.17 L102.32,223.16 L102.82,223.15 L103.32,223.13 L103.81,223.12 L104.31,223.11 L104.81,223.10 L105.31,223.09 L105.81,223.07 L106.31,223.06 L106.81,223.05 L107.30,223.04 L107.80,223.03 L108.30,223.02 L108.80,223.02 L109.30,223.01 L109.80,223.00 L110.29,222.99 L110.79,222.98 L111.29,222.97 L111.79,222.97 L112.29,222.96 L112.78,222.95 L113.28,222.94 L113.78,222.94 L114.28,222.93 L114.78,222.92 L115.28,222.92 L115.78,222.91 L116.27,222.91 L116.77,222.90 L117.27,222.89 L117.77,222.89 L118.27,222.88 L118.77,222.88 L119.26,222.87 L119.76,222.87 L120.26,222.86 L120.76,222.86 L121.26,222.86 L121.75,222.85 L122.25,222.85 L122.75,222.84 L123.25,222.84 L123.75,222.84 L124.25,222.83 L124.75,222.83 L125.24,222.82 L125.74,222.82 L126.24,222.82 L126.74,222.81 L127.24,222.81 L127.73,222.81 L128.23,222.81 L128.73,222.80 L129.23,222.80 L129.73,222.80 L130.23,222.79 L130.72,222.79 L131.22,222.79 L131.72,222.79 L132.22,222.79 L132.72,222.78 L133.22,222.78 L133.72,222.78 L134.21,222.78 L134.71,222.77 L135.21,222.77 L135.71,222.77 L136.21,222.77 L136.70,222.77 L137.20,222.77 L137.70,222.76 L138.20,222.76 L138.70,222.76 L139.20,222.76 L139.69,222.76 L140.19,222.76 L140.69,222.75 L141.19,222.75 L141.69,222.75 L142.19,222.75 L142.69,222.75 L143.18,222.75 L143.68,222.75 L144.18,222.75 L144.68,222.74 L145.18,222.74 L145.68,222.74 L146.17,222.74 L146.67,222.74 L147.17,222.74 L147.67,222.74 L148.17,222.74 L148.67,222.74 L149.16,222.74 L149.66,222.74 L150.16,222.73 L150.66,222.73 L151.16,222.73 L151.66,222.73 L152.15,222.73 L152.65,222.73 L153.15,222.73 L153.65,222.73 L154.15,222.73 L154.64,222.73 L155.14,222.73 L155.64,222.73 L156.14,222.73 L156.64,222.73 L157.14,222.73 L157.63,222.73 L158.13,222.72 L158.63,222.72 L159.13,222.72 L159.63,222.72 L160.13,222.72 L160.62,222.72 L161.12,222.72 L161.62,222.72 L162.12,222.72 L162.62,222.72 L163.12,222.72 L163.62,222.72 L164.11,222.72 L164.61,222.72 L165.11,222.72 L165.61,222.72 L166.11,222.72 L166.61,222.72 L167.10,222.72 L167.60,222.72 L168.10,222.72 L168.60,222.72 L169.10,222.72 L169.59,222.72 L170.09,222.72 L170.59,222.72 L171.09,222.72 L171.59,222.72 L172.09,222.72 L172.58,222.72 L173.08,222.71 L173.58,222.71 L174.08,222.71 L174.58,222.71 L175.08,222.71 L175.57,222.71 L176.07,222.71 L176.57,222.71 L177.07,222.71 L177.57,222.71 L178.07,222.71 L178.56,222.71 L179.06,222.71 L179.56,222.71 L180.06,222.71 L180.56,222.71 L181.06,222.71 L181.56,222.71 L182.05,222.71 L182.55,222.71 L183.05,222.71 L183.55,222.71 L184.05,222.71 L184.54,222.71 L185.04,222.71 L185.54,222.71 L186.04,222.71 L186.54,222.71 L187.04,222.71 L187.53,222.71 L188.03,222.71 L188.53,222.71 L189.03,222.71 L189.53,222.71 L190.03,222.71 L190.53,222.71 L191.02,222.71 L191.52,222.71 L192.02,222.71 L192.52,222.71 L193.02,222.71 L193.51,222.71 L194.01,222.71 L194.51,222.71 L195.01,222.71 L195.51,222.71 L196.01,222.71 L196.50,222.71 L197.00,222.71 L197.50,222.71 L198.00,222.71 L198.50,222.71 L199.00,222.71 L199.50,222.71 L199.99,222.71 L200.49,222.71 L200.99,222.71 L201.49,222.71 L201.99,222.71 L202.49,222.71 L202.98,222.71 L203.48,222.71 L203.98,222.71 L204.48,222.71 L204.98,222.71 L205.47,222.71 L205.97,222.71 L206.47,222.71 L206.97,222.71 L207.47,222.71 L207.97,222.71 L208.47,222.71 L208.96,222.71 L209.46,222.71 L209.96,222.71 L210.46,222.71 L210.96,222.71 L211.46,222.71 L211.95,222.71 L212.45,222.71 L212.95,222.71 L213.45,222.71 L213.95,222.71 L214.44,222.71 L214.94,222.71 L215.44,222.71 L215.94,222.71 L216.44,222.71 L216.94,222.71 L217.44,222.71 L217.93,222.71 L218.43,222.71 L218.93,222.71 L219.43,222.71 L219.93,222.71 L220.43,222.71 L220.92,222.71 L221.42,222.71 L221.92,222.71 L222.42,222.71 L222.92,222.71 L223.41,222.71 L223.91,222.71 L224.41,222.71 L224.91,222.71 L225.41,222.71 L225.91,222.71 L226.41,222.71 L226.90,222.71 L227.40,222.71 L227.90,222.71 L228.40,222.71 L228.90,222.71 L229.40,222.71 L229.89,222.71 L230.39,222.71 L230.89,222.71 L231.39,222.71 L231.89,222.71 L232.38,222.71 L232.88,222.71 L233.38,222.71 L233.88,222.71 L234.38,222.71 L234.88,222.71 L235.38,222.71 L235.87,222.71 L236.37,222.71 L236.87,222.71 L237.37,222.71 L237.87,222.71 L238.37,222.71 L238.86,222.71 L239.36,222.71 L239.86,222.71 L240.36,222.71 L240.86,222.71 L241.35,222.71 L241.85,222.71 L242.35,222.71 L242.85,222.71 L243.35,222.71 L243.85,222.71 L244.34,222.71 L244.84,222.71 L245.34,222.71 L245.84,222.71 L246.34,222.71 L246.84,222.71 L247.34,222.71 L247.83,222.71 L248.33,222.71 L248.83,222.71 L249.33,222.71 L249.83,222.71 L250.32,222.71 L250.82,222.71 L251.32,222.71 L251.82,222.71 L252.32,222.71 L252.82,222.71 L253.31,222.71 L253.81,222.71 L254.31,222.71 L254.81,222.71 L255.31,222.71 L255.81,222.71 L256.31,222.71 L256.80,222.71 L257.30,222.71 L257.80,222.71 L258.30,222.71 L258.80,222.71 L259.29,222.71 L259.79,222.71 L260.29,222.71 L260.79,222.71 L261.29,222.71 L261.79,222.71 L262.28,222.71 L262.78,222.71 L263.28,222.71 L263.78,222.71 L264.28,222.71 L264.78,222.71 L265.27,222.71 L265.77,222.71 L266.27,222.71 L266.77,222.71 L267.27,222.71 L267.77,222.71 L268.26,222.71 L268.76,222.71 L269.26,222.71 L269.76,222.71 L270.26,222.71 L270.76,222.71 L271.25,222.71 L271.75,222.71 L272.25,222.71 L272.75,222.71 L273.25,222.71 L273.75,222.71 L274.25,222.71 L274.74,222.71 L275.24,222.71 L275.74,222.71 L276.24,222.71 L276.74,222.71 L277.24,222.71 L277.73,222.71 L278.23,222.71 L278.73,222.71 L279.23,222.71 L279.73,222.71 L280.23,222.71 L280.72,222.71 L281.22,222.71 L281.72,222.71 L282.22,222.71 L282.72,222.71 L283.22,222.71 L283.71,222.71 L284.21,222.71 L284.71,222.71 L285.21,222.71 L285.71,222.71 L286.21,222.71 L286.70,222.71 L287.20,222.71 L287.70,222.71 L288.20,222.71 L288.70,222.71 L289.19,222.71 L289.69,222.71 L290.19,222.71 L290.69,222.71 L291.19,222.71 L291.69,222.71 L292.19,222.71 L292.68,222.71 L293.18,222.71 L293.68,222.71 L294.18,222.71 L294.68,222.71 L295.18,222.71 L295.67,222.71 L296.17,222.71 L296.67,222.71 L297.17,222.71 L297.67,222.71 L298.16,222.71 L298.66,222.71 L299.16,222.71 L299.66,222.71 L300.16,222.71 L300.66,222.71 L301.15,222.71 L301.65,222.71 L302.15,222.71 L302.65,222.71 L303.15,222.71 L303.65,222.71 L304.14,222.71 L304.64,222.71 L305.14,222.71 L305.64,222.71 L306.14,222.71 L306.64,222.71 L307.13,222.71 L307.63,222.71 L308.13,222.71 L308.63,222.71 L309.13,222.71 L309.63,222.71 L310.12,222.71 L310.62,222.71 L311.12,222.71 L311.62,222.71 L312.12,222.71 L312.62,222.71 L313.12,222.71 L313.61,222.71 L314.11,222.71 L314.61,222.71 L315.11,222.71 L315.61,222.71 L316.11,222.71 L316.60,222.71 L317.10,222.71 L317.60,222.71 L318.10,222.71 L318.60,222.71 L319.10,222.71 L319.59,222.71 L320.09,222.71 L320.59,222.71 L321.09,222.71 L321.59,222.71 L322.08,222.71 L322.58,222.71 L323.08,222.71 L323.58,222.71 L324.08,222.71 L324.58,222.71 L325.07,222.71 L325.57,222.71 L326.07,222.71 L326.57,222.71 L327.07,222.71 L327.57,222.71 L328.06,222.71 L328.56,222.71 L329.06,222.71 L329.56,222.71 L330.06,222.71 L330.56,222.71 L331.06,222.71 L331.55,222.71 L332.05,222.71 L332.55,222.71 L333.05,222.71 L333.55,222.71 L334.05,222.71 L334.54,222.71 L335.04,222.71 L335.54,222.71 L336.04,222.71 L336.54,222.71 L337.04,222.71 L337.53,222.71 L338.03,222.71 L338.53,222.71 L339.03,222.71 L339.53,222.71 L340.02,222.71 L340.52,222.71 L341.02,222.71 L341.52,222.71 L342.02,222.71 L342.52,222.71 L343.01,222.71 L343.51,222.71 L344.01,222.71 L344.51,222.71 L345.01,222.71 L345.51,222.71 L346.00,222.71 L346.50,222.71 L347.00,222.71 L347.50,222.71" fill="none" stroke="#65559a" stroke-width="1.7" stroke-dasharray="4.2,3.24" stroke-linejoin="round"/>
<path d="M48.50,233.50 L49.00,233.18 L49.50,232.86 L49.99,232.54 L50.49,232.23 L50.99,231.93 L51.49,231.63 L51.99,231.33 L52.49,231.04 L52.98,230.75 L53.48,230.46 L53.98,230.18 L54.48,229.91 L54.98,229.64 L55.48,229.37 L55.98,229.10 L56.47,228.84 L56.97,228.59 L57.47,228.33 L57.97,228.09 L58.47,227.84 L58.97,227.60 L59.46,227.36 L59.96,227.12 L60.46,226.89 L60.96,226.66 L61.46,226.44 L61.95,226.22 L62.45,226.00 L62.95,225.78 L63.45,225.57 L63.95,225.36 L64.45,225.16 L64.94,224.95 L65.44,224.75 L65.94,224.56 L66.44,224.36 L66.94,224.17 L67.44,223.98 L67.94,223.79 L68.43,223.61 L68.93,223.43 L69.43,223.25 L69.93,223.08 L70.43,222.90 L70.92,222.73 L71.42,222.56 L71.92,222.40 L72.42,222.24 L72.92,222.07 L73.42,221.92 L73.91,221.76 L74.41,221.61 L74.91,221.45 L75.41,221.30 L75.91,221.16 L76.41,221.01 L76.91,220.87 L77.40,220.73 L77.90,220.59 L78.40,220.45 L78.90,220.32 L79.40,220.18 L79.89,220.05 L80.39,219.92 L80.89,219.80 L81.39,219.67 L81.89,219.55 L82.39,219.42 L82.88,219.30 L83.38,219.19 L83.88,219.07 L84.38,218.95 L84.88,218.84 L85.38,218.73 L85.88,218.62 L86.37,218.51 L86.87,218.40 L87.37,218.30 L87.87,218.19 L88.37,218.09 L88.87,217.99 L89.36,217.89 L89.86,217.79 L90.36,217.70 L90.86,217.60 L91.36,217.51 L91.85,217.41 L92.35,217.32 L92.85,217.23 L93.35,217.15 L93.85,217.06 L94.35,216.97 L94.84,216.89 L95.34,216.80 L95.84,216.72 L96.34,216.64 L96.84,216.56 L97.34,216.48 L97.84,216.40 L98.33,216.33 L98.83,216.25 L99.33,216.18 L99.83,216.10 L100.33,216.03 L100.83,215.96 L101.32,215.89 L101.82,215.82 L102.32,215.75 L102.82,215.69 L103.32,215.62 L103.81,215.56 L104.31,215.49 L104.81,215.43 L105.31,215.37 L105.81,215.30 L106.31,215.24 L106.81,215.18 L107.30,215.13 L107.80,215.07 L108.30,215.01 L108.80,214.95 L109.30,214.90 L109.80,214.84 L110.29,214.79 L110.79,214.74 L111.29,214.68 L111.79,214.63 L112.29,214.58 L112.78,214.53 L113.28,214.48 L113.78,214.43 L114.28,214.39 L114.78,214.34 L115.28,214.29 L115.78,214.25 L116.27,214.20 L116.77,214.16 L117.27,214.11 L117.77,214.07 L118.27,214.03 L118.77,213.98 L119.26,213.94 L119.76,213.90 L120.26,213.86 L120.76,213.82 L121.26,213.78 L121.75,213.74 L122.25,213.71 L122.75,213.67 L123.25,213.63 L123.75,213.60 L124.25,213.56 L124.75,213.52 L125.24,213.49 L125.74,213.45 L126.24,213.42 L126.74,213.39 L127.24,213.35 L127.73,213.32 L128.23,213.29 L128.73,213.26 L129.23,213.23 L129.73,213.20 L130.23,213.17 L130.72,213.14 L131.22,213.11 L131.72,213.08 L132.22,213.05 L132.72,213.02 L133.22,213.00 L133.72,212.97 L134.21,212.94 L134.71,212.92 L135.21,212.89 L135.71,212.86 L136.21,212.84 L136.70,212.81 L137.20,212.79 L137.70,212.76 L138.20,212.74 L138.70,212.72 L139.20,212.69 L139.69,212.67 L140.19,212.65 L140.69,212.63 L141.19,212.61 L141.69,212.58 L142.19,212.56 L142.69,212.54 L143.18,212.52 L143.68,212.50 L144.18,212.48 L144.68,212.46 L145.18,212.44 L145.68,212.42 L146.17,212.40 L146.67,212.38 L147.17,212.37 L147.67,212.35 L148.17,212.33 L148.67,212.31 L149.16,212.30 L149.66,212.28 L150.16,212.26 L150.66,212.25 L151.16,212.23 L151.66,212.21 L152.15,212.20 L152.65,212.18 L153.15,212.17 L153.65,212.15 L154.15,212.14 L154.64,212.12 L155.14,212.11 L155.64,212.09 L156.14,212.08 L156.64,212.06 L157.14,212.05 L157.63,212.04 L158.13,212.02 L158.63,212.01 L159.13,212.00 L159.63,211.99 L160.13,211.97 L160.62,211.96 L161.12,211.95 L161.62,211.94 L162.12,211.92 L162.62,211.91 L163.12,211.90 L163.62,211.89 L164.11,211.88 L164.61,211.87 L165.11,211.86 L165.61,211.85 L166.11,211.84 L166.61,211.83 L167.10,211.81 L167.60,211.80 L168.10,211.79 L168.60,211.79 L169.10,211.78 L169.59,211.77 L170.09,211.76 L170.59,211.75 L171.09,211.74 L171.59,211.73 L172.09,211.72 L172.58,211.71 L173.08,211.70 L173.58,211.69 L174.08,211.69 L174.58,211.68 L175.08,211.67 L175.57,211.66 L176.07,211.65 L176.57,211.65 L177.07,211.64 L177.57,211.63 L178.07,211.62 L178.56,211.62 L179.06,211.61 L179.56,211.60 L180.06,211.60 L180.56,211.59 L181.06,211.58 L181.56,211.57 L182.05,211.57 L182.55,211.56 L183.05,211.56 L183.55,211.55 L184.05,211.54 L184.54,211.54 L185.04,211.53 L185.54,211.52 L186.04,211.52 L186.54,211.51 L187.04,211.51 L187.53,211.50 L188.03,211.50 L188.53,211.49 L189.03,211.48 L189.53,211.48 L190.03,211.47 L190.53,211.47 L191.02,211.46 L191.52,211.46 L192.02,211.45 L192.52,211.45 L193.02,211.44 L193.51,211.44 L194.01,211.44 L194.51,211.43 L195.01,211.43 L195.51,211.42 L196.01,211.42 L196.50,211.41 L197.00,211.41 L197.50,211.40 L198.00,211.40 L198.50,211.40 L199.00,211.39 L199.50,211.39 L199.99,211.38 L200.49,211.38 L200.99,211.38 L201.49,211.37 L201.99,211.37 L202.49,211.37 L202.98,211.36 L203.48,211.36 L203.98,211.35 L204.48,211.35 L204.98,211.35 L205.47,211.34 L205.97,211.34 L206.47,211.34 L206.97,211.34 L207.47,211.33 L207.97,211.33 L208.47,211.33 L208.96,211.32 L209.46,211.32 L209.96,211.32 L210.46,211.31 L210.96,211.31 L211.46,211.31 L211.95,211.31 L212.45,211.30 L212.95,211.30 L213.45,211.30 L213.95,211.30 L214.44,211.29 L214.94,211.29 L215.44,211.29 L215.94,211.29 L216.44,211.28 L216.94,211.28 L217.44,211.28 L217.93,211.28 L218.43,211.27 L218.93,211.27 L219.43,211.27 L219.93,211.27 L220.43,211.26 L220.92,211.26 L221.42,211.26 L221.92,211.26 L222.42,211.26 L222.92,211.25 L223.41,211.25 L223.91,211.25 L224.41,211.25 L224.91,211.25 L225.41,211.24 L225.91,211.24 L226.41,211.24 L226.90,211.24 L227.40,211.24 L227.90,211.24 L228.40,211.23 L228.90,211.23 L229.40,211.23 L229.89,211.23 L230.39,211.23 L230.89,211.23 L231.39,211.22 L231.89,211.22 L232.38,211.22 L232.88,211.22 L233.38,211.22 L233.88,211.22 L234.38,211.22 L234.88,211.21 L235.38,211.21 L235.87,211.21 L236.37,211.21 L236.87,211.21 L237.37,211.21 L237.87,211.21 L238.37,211.20 L238.86,211.20 L239.36,211.20 L239.86,211.20 L240.36,211.20 L240.86,211.20 L241.35,211.20 L241.85,211.20 L242.35,211.20 L242.85,211.19 L243.35,211.19 L243.85,211.19 L244.34,211.19 L244.84,211.19 L245.34,211.19 L245.84,211.19 L246.34,211.19 L246.84,211.19 L247.34,211.18 L247.83,211.18 L248.33,211.18 L248.83,211.18 L249.33,211.18 L249.83,211.18 L250.32,211.18 L250.82,211.18 L251.32,211.18 L251.82,211.18 L252.32,211.18 L252.82,211.17 L253.31,211.17 L253.81,211.17 L254.31,211.17 L254.81,211.17 L255.31,211.17 L255.81,211.17 L256.31,211.17 L256.80,211.17 L257.30,211.17 L257.80,211.17 L258.30,211.17 L258.80,211.17 L259.29,211.16 L259.79,211.16 L260.29,211.16 L260.79,211.16 L261.29,211.16 L261.79,211.16 L262.28,211.16 L262.78,211.16 L263.28,211.16 L263.78,211.16 L264.28,211.16 L264.78,211.16 L265.27,211.16 L265.77,211.16 L266.27,211.16 L266.77,211.16 L267.27,211.16 L267.77,211.15 L268.26,211.15 L268.76,211.15 L269.26,211.15 L269.76,211.15 L270.26,211.15 L270.76,211.15 L271.25,211.15 L271.75,211.15 L272.25,211.15 L272.75,211.15 L273.25,211.15 L273.75,211.15 L274.25,211.15 L274.74,211.15 L275.24,211.15 L275.74,211.15 L276.24,211.15 L276.74,211.15 L277.24,211.15 L277.73,211.15 L278.23,211.15 L278.73,211.14 L279.23,211.14 L279.73,211.14 L280.23,211.14 L280.72,211.14 L281.22,211.14 L281.72,211.14 L282.22,211.14 L282.72,211.14 L283.22,211.14 L283.71,211.14 L284.21,211.14 L284.71,211.14 L285.21,211.14 L285.71,211.14 L286.21,211.14 L286.70,211.14 L287.20,211.14 L287.70,211.14 L288.20,211.14 L288.70,211.14 L289.19,211.14 L289.69,211.14 L290.19,211.14 L290.69,211.14 L291.19,211.14 L291.69,211.14 L292.19,211.14 L292.68,211.14 L293.18,211.14 L293.68,211.14 L294.18,211.13 L294.68,211.13 L295.18,211.13 L295.67,211.13 L296.17,211.13 L296.67,211.13 L297.17,211.13 L297.67,211.13 L298.16,211.13 L298.66,211.13 L299.16,211.13 L299.66,211.13 L300.16,211.13 L300.66,211.13 L301.15,211.13 L301.65,211.13 L302.15,211.13 L302.65,211.13 L303.15,211.13 L303.65,211.13 L304.14,211.13 L304.64,211.13 L305.14,211.13 L305.64,211.13 L306.14,211.13 L306.64,211.13 L307.13,211.13 L307.63,211.13 L308.13,211.13 L308.63,211.13 L309.13,211.13 L309.63,211.13 L310.12,211.13 L310.62,211.13 L311.12,211.13 L311.62,211.13 L312.12,211.13 L312.62,211.13 L313.12,211.13 L313.61,211.13 L314.11,211.13 L314.61,211.13 L315.11,211.13 L315.61,211.13 L316.11,211.13 L316.60,211.13 L317.10,211.13 L317.60,211.13 L318.10,211.13 L318.60,211.13 L319.10,211.13 L319.59,211.13 L320.09,211.13 L320.59,211.13 L321.09,211.13 L321.59,211.13 L322.08,211.13 L322.58,211.13 L323.08,211.13 L323.58,211.13 L324.08,211.13 L324.58,211.12 L325.07,211.12 L325.57,211.12 L326.07,211.12 L326.57,211.12 L327.07,211.12 L327.57,211.12 L328.06,211.12 L328.56,211.12 L329.06,211.12 L329.56,211.12 L330.06,211.12 L330.56,211.12 L331.06,211.12 L331.55,211.12 L332.05,211.12 L332.55,211.12 L333.05,211.12 L333.55,211.12 L334.05,211.12 L334.54,211.12 L335.04,211.12 L335.54,211.12 L336.04,211.12 L336.54,211.12 L337.04,211.12 L337.53,211.12 L338.03,211.12 L338.53,211.12 L339.03,211.12 L339.53,211.12 L340.02,211.12 L340.52,211.12 L341.02,211.12 L341.52,211.12 L342.02,211.12 L342.52,211.12 L343.01,211.12 L343.51,211.12 L344.01,211.12 L344.51,211.12 L345.01,211.12 L345.51,211.12 L346.00,211.12 L346.50,211.12 L347.00,211.12 L347.50,211.12" fill="none" stroke="#8a5ca4" stroke-width="1.6" stroke-linejoin="round"/>
<line x1="56" y1="17.60" x2="72" y2="17.60" stroke="#000000" stroke-width="1.7"/>
<text x="73" y="21.45" font-size="11.3" fill="#000">Constant</text>
<line x1="56" y1="33.50" x2="72" y2="33.50" stroke="#e46c0a" stroke-width="1.7"/>
<text x="73" y="37.35" font-size="11.3" fill="#000">25% in 25 y</text>
<line x1="56" y1="49.40" x2="60.8" y2="49.40" stroke="#a8302f" stroke-width="1.7"/>
<line x1="64" y1="49.40" x2="68.6" y2="49.40" stroke="#a8302f" stroke-width="1.7"/>
<text x="73" y="53.25" font-size="11.3" fill="#000">25% in 50 y</text>
<line x1="56" y1="65.30" x2="72" y2="65.30" stroke="#ff0000" stroke-width="1.7"/>
<text x="73" y="69.15" font-size="11.3" fill="#000">25% in 100 y</text>
<line x1="56" y1="81.20" x2="72" y2="81.20" stroke="#00b0f0" stroke-width="1.7"/>
<text x="73" y="85.05" font-size="11.3" fill="#000">50% in 25 y</text>
<line x1="56" y1="97.10" x2="60.8" y2="97.10" stroke="#253070" stroke-width="1.7"/>
<line x1="64" y1="97.10" x2="68.6" y2="97.10" stroke="#253070" stroke-width="1.7"/>
<text x="73" y="100.95" font-size="11.3" fill="#000">50% in 50 y</text>
<line x1="56" y1="113.00" x2="72" y2="113.00" stroke="#4aa8c0" stroke-width="1.7"/>
<text x="73" y="116.85" font-size="11.3" fill="#000">50% in 100 y</text>
<line x1="56" y1="128.90" x2="72" y2="128.90" stroke="#f266f2" stroke-width="1.7"/>
<text x="73" y="132.75" font-size="11.3" fill="#000">100% in 25 y</text>
<line x1="56" y1="144.80" x2="60.8" y2="144.80" stroke="#65559a" stroke-width="1.7"/>
<line x1="64" y1="144.80" x2="68.6" y2="144.80" stroke="#65559a" stroke-width="1.7"/>
<text x="73" y="148.65" font-size="11.3" fill="#000">100% in 50 y</text>
<line x1="56" y1="160.70" x2="72" y2="160.70" stroke="#8a5ca4" stroke-width="1.7"/>
<text x="73" y="164.55" font-size="11.3" fill="#000">100% in 100 y</text>
<text x="38.4" y="237.75" font-size="11" text-anchor="end" fill="#000">0</text>
<text x="38.4" y="199.62" font-size="11" text-anchor="end" fill="#000">200</text>
<text x="38.4" y="161.49" font-size="11" text-anchor="end" fill="#000">400</text>
<text x="38.4" y="123.36" font-size="11" text-anchor="end" fill="#000">600</text>
<text x="38.4" y="85.23" font-size="11" text-anchor="end" fill="#000">800</text>
<text x="38.4" y="47.10" font-size="11" text-anchor="end" fill="#000">1000</text>
<text x="38.4" y="8.97" font-size="11" text-anchor="end" fill="#000">1200</text>
<text x="48.50" y="250.8" font-size="11" text-anchor="middle" fill="#000">0</text>
<text x="98.33" y="250.8" font-size="11" text-anchor="middle" fill="#000">50</text>
<text x="148.17" y="250.8" font-size="11" text-anchor="middle" fill="#000">100</text>
<text x="198.00" y="250.8" font-size="11" text-anchor="middle" fill="#000">150</text>
<text x="247.83" y="250.8" font-size="11" text-anchor="middle" fill="#000">200</text>
<text x="297.67" y="250.8" font-size="11" text-anchor="middle" fill="#000">250</text>
<text x="347.50" y="250.8" font-size="11" text-anchor="middle" fill="#000">300</text>
<text x="198" y="265.5" font-size="11" font-weight="bold" text-anchor="middle" fill="#000">Time (y)</text>
<text transform="translate(9,201.5) rotate(-90)" x="0" y="0" font-size="11" font-weight="bold" textLength="164" lengthAdjust="spacingAndGlyphs" fill="#000">Product substitution (Mg C/ha)</text>
</svg></body></html>
